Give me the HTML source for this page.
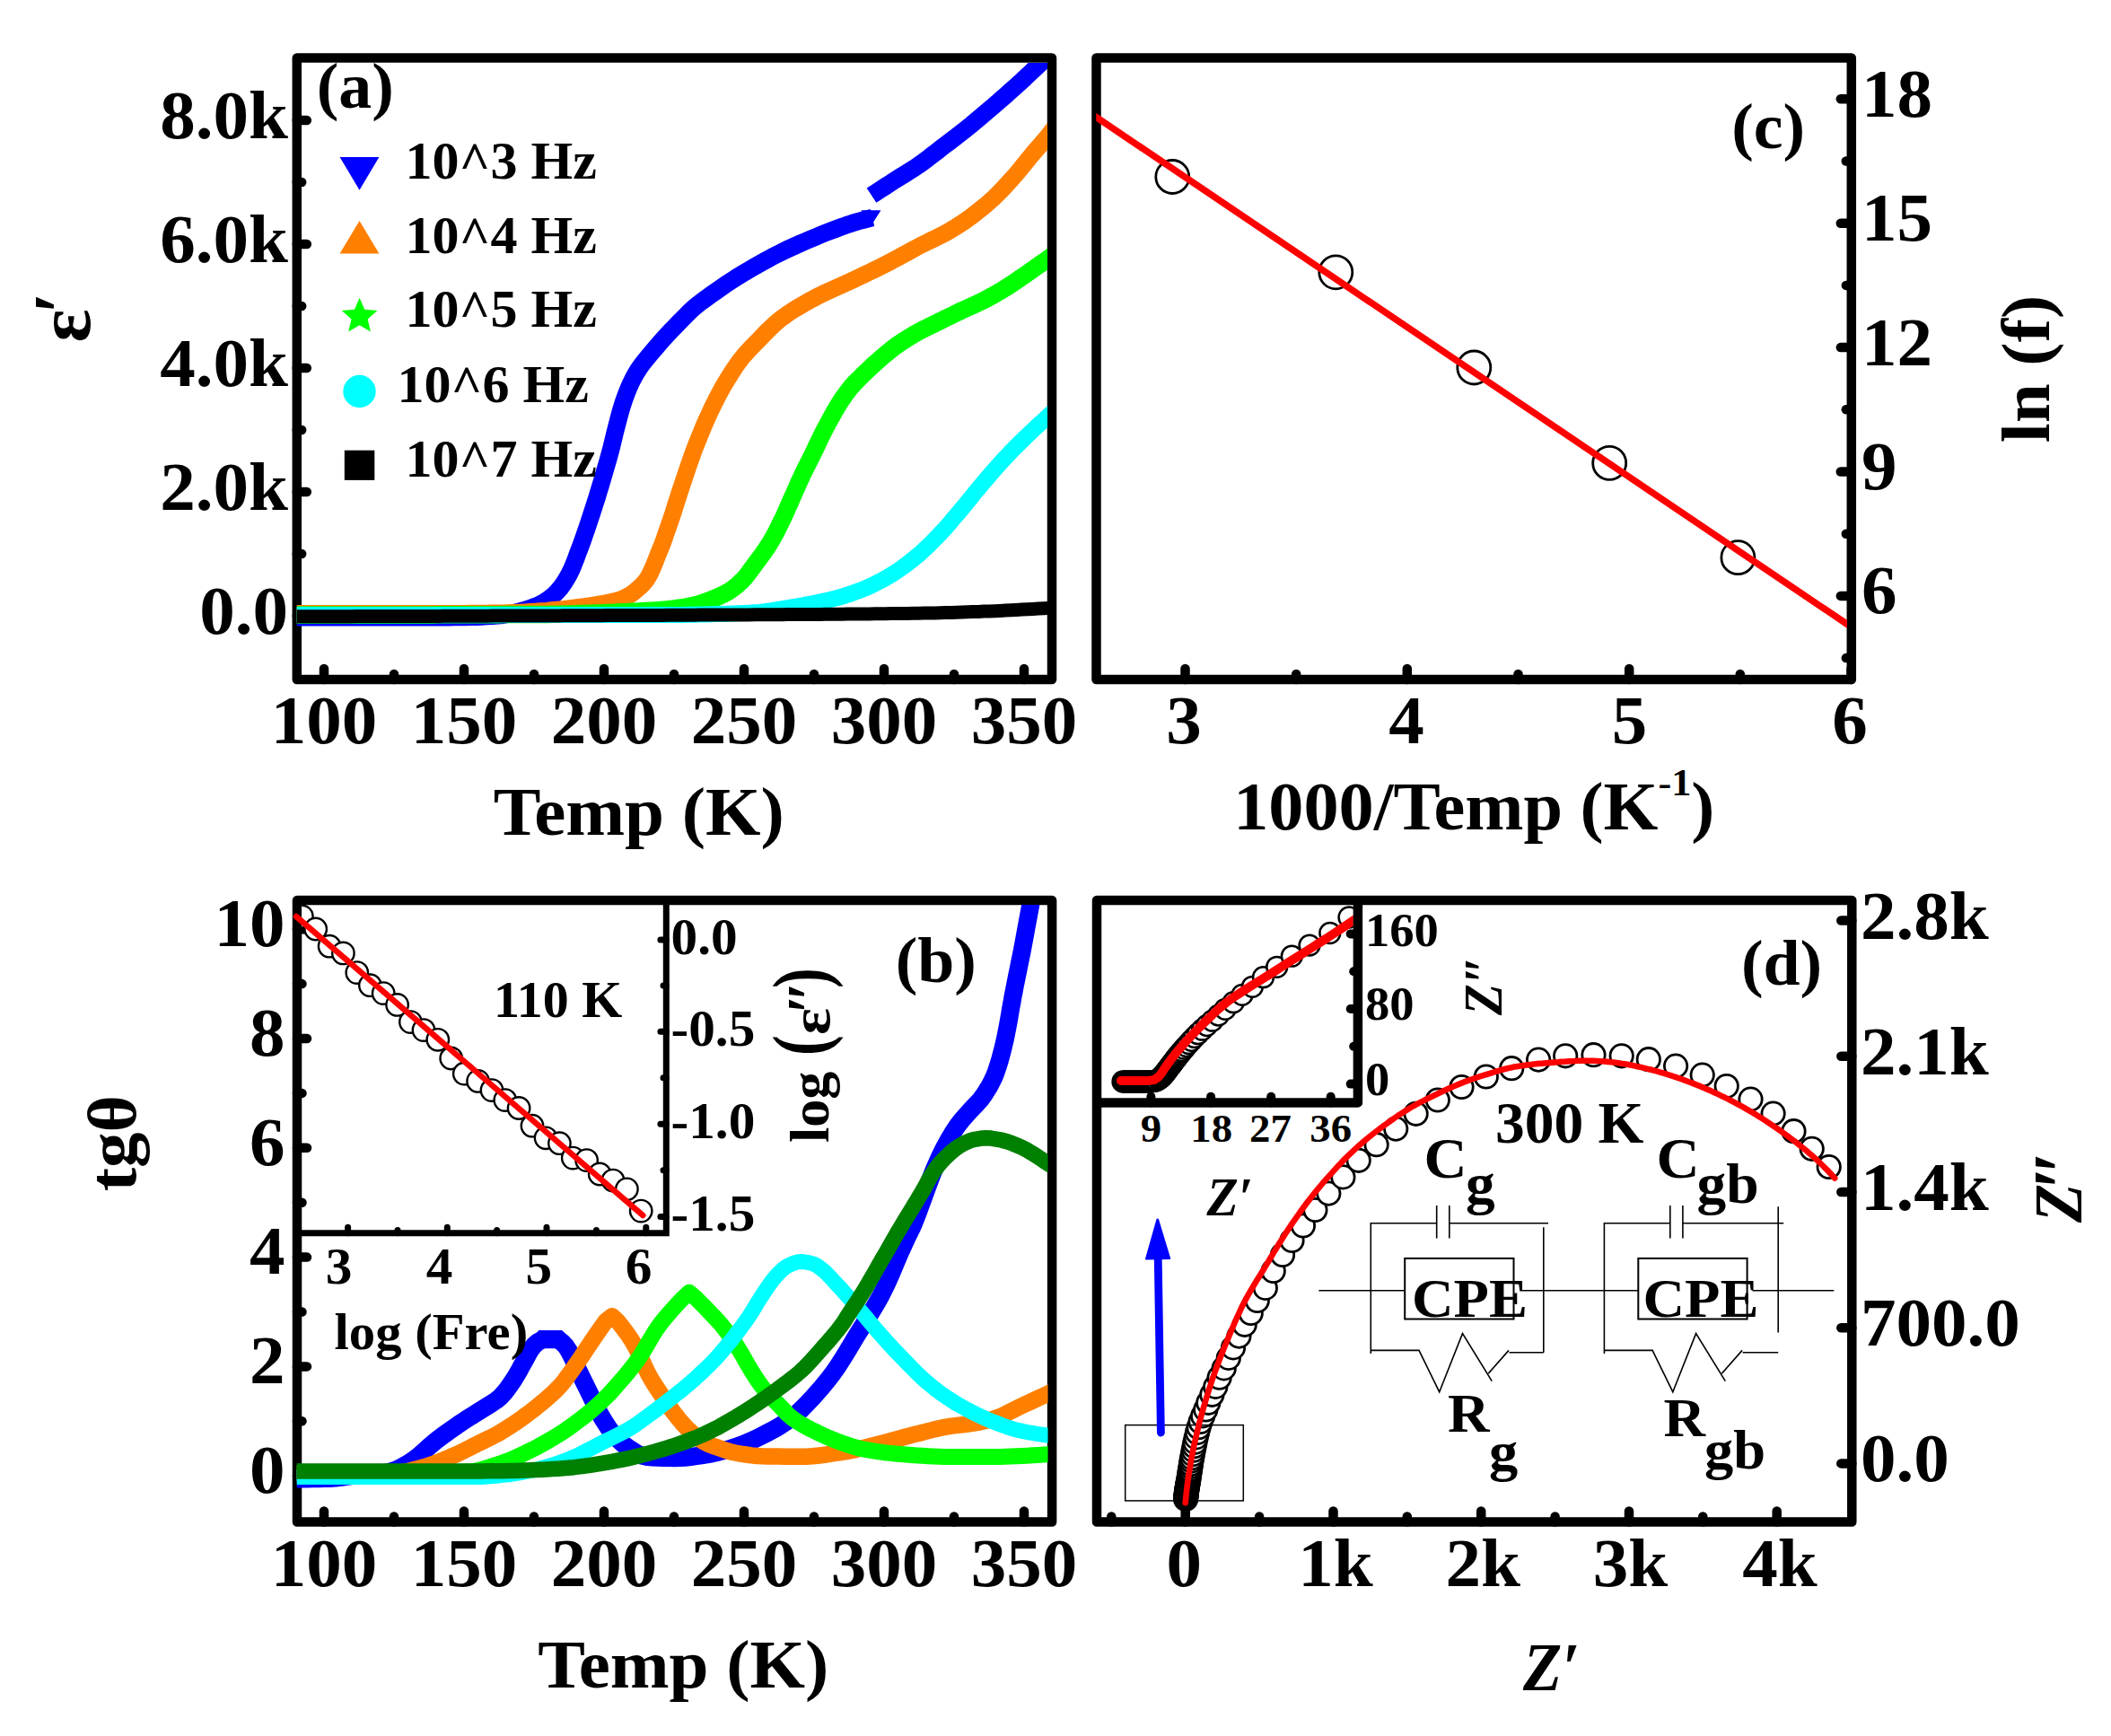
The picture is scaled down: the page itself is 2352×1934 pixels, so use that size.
<!DOCTYPE html>
<html><head><meta charset="utf-8"><title>figure</title>
<style>html,body{margin:0;padding:0;background:#fff}svg{display:block}text{font-family:'Liberation Serif', 'DejaVu Serif', serif;fill:#000}</style>
</head><body>
<svg width="2352" height="1934" viewBox="0 0 2352 1934">
<rect width="2352" height="1934" fill="#fff"/>
<defs>
<clipPath id="ca"><rect x="330.5" y="70" width="836.5" height="687"/></clipPath>
<clipPath id="cc"><rect x="1221.3" y="70" width="836.6" height="687"/></clipPath>
<clipPath id="cb"><rect x="330.5" y="1008" width="837" height="687.5"/></clipPath>
<clipPath id="cd"><rect x="1222" y="1008" width="836.4" height="687.5"/></clipPath>
<clipPath id="cdi"><rect x="1222" y="1008" width="285.8" height="215"/></clipPath>
<clipPath id="cbi"><rect x="336.3" y="1008" width="402.5" height="362.2"/></clipPath>
</defs>
<g id="panel-a">
<rect x="330.8" y="64.5" width="841.2" height="692.5" fill="none" stroke="#000" stroke-width="10.5" stroke-linejoin="round"/>
<line x1="330.8" y1="134" x2="341.8" y2="134" stroke="#000" stroke-width="10.5" stroke-linecap="round"/>
<line x1="330.8" y1="272" x2="341.8" y2="272" stroke="#000" stroke-width="10.5" stroke-linecap="round"/>
<line x1="330.8" y1="410" x2="341.8" y2="410" stroke="#000" stroke-width="10.5" stroke-linecap="round"/>
<line x1="330.8" y1="548" x2="341.8" y2="548" stroke="#000" stroke-width="10.5" stroke-linecap="round"/>
<line x1="330.8" y1="686" x2="341.8" y2="686" stroke="#000" stroke-width="10.5" stroke-linecap="round"/>
<line x1="330.8" y1="203" x2="336.2" y2="203" stroke="#000" stroke-width="10.5" stroke-linecap="round"/>
<line x1="330.8" y1="341" x2="336.2" y2="341" stroke="#000" stroke-width="10.5" stroke-linecap="round"/>
<line x1="330.8" y1="479" x2="336.2" y2="479" stroke="#000" stroke-width="10.5" stroke-linecap="round"/>
<line x1="330.8" y1="617" x2="336.2" y2="617" stroke="#000" stroke-width="10.5" stroke-linecap="round"/>
<line x1="361" y1="757" x2="361" y2="745" stroke="#000" stroke-width="10.5" stroke-linecap="round"/>
<line x1="517" y1="757" x2="517" y2="745" stroke="#000" stroke-width="10.5" stroke-linecap="round"/>
<line x1="673" y1="757" x2="673" y2="745" stroke="#000" stroke-width="10.5" stroke-linecap="round"/>
<line x1="829" y1="757" x2="829" y2="745" stroke="#000" stroke-width="10.5" stroke-linecap="round"/>
<line x1="985" y1="757" x2="985" y2="745" stroke="#000" stroke-width="10.5" stroke-linecap="round"/>
<line x1="1141" y1="757" x2="1141" y2="745" stroke="#000" stroke-width="10.5" stroke-linecap="round"/>
<line x1="439" y1="757" x2="439" y2="751" stroke="#000" stroke-width="10.5" stroke-linecap="round"/>
<line x1="595" y1="757" x2="595" y2="751" stroke="#000" stroke-width="10.5" stroke-linecap="round"/>
<line x1="751" y1="757" x2="751" y2="751" stroke="#000" stroke-width="10.5" stroke-linecap="round"/>
<line x1="907" y1="757" x2="907" y2="751" stroke="#000" stroke-width="10.5" stroke-linecap="round"/>
<line x1="1063" y1="757" x2="1063" y2="751" stroke="#000" stroke-width="10.5" stroke-linecap="round"/>
<path d="M330.5 687.8 L336.6 687.8 L342.6 687.8 L348.7 687.8 L354.7 687.8 L360.8 687.8 L366.9 687.8 L372.9 687.8 L379 687.8 L385 687.8 L391.1 687.8 L397.2 687.8 L403.2 687.8 L409.3 687.8 L415.3 687.8 L421.4 687.8 L427.5 687.8 L433.5 687.8 L439.6 687.8 L445.6 687.8 L451.7 687.8 L457.8 687.8 L463.8 687.8 L469.9 687.8 L475.9 687.8 L482 687.8 L488.1 687.8 L494.1 687.7 L500.2 687.7 L506.2 687.6 L512.3 687.5 L518.4 687.4 L524.4 687.3 L530.5 687.2 L536.6 686.9 L542.6 686.6 L548.7 686.2 L554.7 685.8 L560.7 685.2 L566.7 684.2 L572.6 682.8 L578.5 681.3 L584.3 679.7 L590.1 677.8 L595.8 675.7 L601.4 673.4 L606.8 670.5 L611.8 667.2 L616.5 663.4 L620.8 659.1 L624.8 654.5 L628.3 649.6 L631.5 644.4 L634.5 639.1 L637.1 633.7 L639.4 628.1 L641.6 622.4 L643.7 616.7 L645.9 611 L648 605.4 L650 599.7 L652 593.9 L654 588.2 L655.9 582.5 L657.8 576.7 L659.7 570.9 L661.6 565.2 L663.4 559.4 L665.3 553.6 L667 547.8 L668.8 542 L670.5 536.2 L672.2 530.4 L673.9 524.6 L675.6 518.8 L677.3 513 L678.9 507.1 L680.5 501.3 L682 495.4 L683.4 489.5 L684.8 483.6 L686.3 477.7 L687.8 471.9 L689.3 466 L690.9 460.1 L692.6 454.3 L694.4 448.5 L696.4 442.8 L698.5 437.1 L700.8 431.5 L703.3 426 L706 420.6 L709 415.3 L712.2 410.2 L715.8 405.3 L719.6 400.5 L723.4 395.8 L727.4 391.2 L731.3 386.6 L735.2 382 L739.2 377.5 L743.3 373 L747.5 368.6 L751.7 364.2 L755.9 359.9 L760.2 355.5 L764.4 351.2 L768.7 346.9 L773.2 342.8 L777.8 339 L782.7 335.3 L787.6 331.8 L792.5 328.2 L797.4 324.7 L802.4 321.2 L807.4 317.7 L812.4 314.4 L817.5 311.1 L822.6 307.8 L827.8 304.7 L833 301.6 L838.2 298.5 L843.5 295.5 L848.8 292.5 L854.1 289.6 L859.4 286.7 L864.8 283.9 L870.2 281.2 L875.6 278.5 L881.1 276 L886.6 273.5 L892.2 271 L897.7 268.6 L903.3 266.2 L908.9 263.9 L914.5 261.6 L920.1 259.3 L925.8 257.1 L931.5 255 L937.1 252.9 L942.9 250.8 L948.6 248.9 L954.4 247.2 L960.2 245.5 L966.1 244 L972 242.6" fill="none" stroke="#0000ff" stroke-width="19.5" stroke-linejoin="round" stroke-linecap="butt" clip-path="url(#ca)"/>
<path d="M959.5 234.2 L981.5 234.2 L970.5 251.5 Z" fill="#0000ff"/>
<path d="M971 217.7 L976.2 214.3 L981.5 210.9 L986.7 207.5 L992 204.1 L997.2 200.7 L1002.5 197.4 L1007.9 194.1 L1013.2 190.8 L1018.4 187.5 L1023.6 184 L1028.7 180.3 L1033.7 176.6 L1038.6 172.8 L1043.6 169 L1048.5 165.1 L1053.5 161.3 L1058.4 157.6 L1063.4 153.8 L1068.3 149.9 L1073.3 146.1 L1078.1 142.2 L1083 138.3 L1087.8 134.3 L1092.6 130.3 L1097.4 126.2 L1102.1 122.2 L1106.9 118.1 L1111.6 114 L1116.3 109.9 L1121 105.8 L1125.7 101.6 L1130.3 97.5 L1135 93.3 L1139.6 89.1 L1144.1 84.8 L1148.7 80.5 L1153.2 76.2 L1157.8 71.9 L1162.3 67.6 L1166.7 63.2 L1171.2 58.9 L1175.6 54.4 L1180 50" fill="none" stroke="#0000ff" stroke-width="19.5" stroke-linejoin="round" stroke-linecap="butt" clip-path="url(#ca)"/>
<path d="M330.5 683.5 L336.6 683.5 L342.6 683.5 L348.7 683.5 L354.7 683.5 L360.8 683.5 L366.8 683.5 L372.9 683.5 L378.9 683.5 L385 683.5 L391 683.5 L397.1 683.5 L403.1 683.5 L409.2 683.5 L415.2 683.5 L421.3 683.5 L427.4 683.5 L433.4 683.5 L439.5 683.5 L445.5 683.5 L451.6 683.5 L457.6 683.5 L463.7 683.5 L469.7 683.5 L475.8 683.5 L481.8 683.5 L487.9 683.5 L493.9 683.5 L500 683.5 L506 683.4 L512.1 683.4 L518.2 683.4 L524.2 683.3 L530.3 683.3 L536.3 683.2 L542.4 683.2 L548.4 683.1 L554.5 683 L560.5 682.9 L566.6 682.7 L572.6 682.5 L578.7 682.2 L584.7 681.9 L590.8 681.6 L596.8 681.2 L602.8 680.8 L608.9 680.4 L614.9 679.8 L620.9 679.2 L627 678.6 L633 678 L639 677.3 L645 676.5 L651 675.7 L657 674.8 L663 673.9 L668.9 672.9 L674.9 671.8 L680.9 670.6 L686.8 669.2 L692.5 667.5 L698.1 665 L703.3 661.9 L708.1 658.2 L712.7 654.2 L717.1 649.9 L720.8 645.3 L723.8 640.1 L726.4 634.6 L728.8 629 L731 623.4 L733.2 617.7 L735.5 612.1 L737.8 606.5 L739.9 600.8 L741.8 595.1 L743.8 589.3 L745.8 583.6 L747.8 577.9 L749.7 572.2 L751.5 566.4 L753.3 560.6 L755.2 554.9 L757 549.1 L758.9 543.4 L760.8 537.6 L762.8 531.9 L764.7 526.1 L766.6 520.4 L768.6 514.7 L770.6 509 L772.6 503.3 L774.8 497.6 L777 492 L779.3 486.4 L781.6 480.8 L783.9 475.2 L786.3 469.6 L788.8 464.1 L791.3 458.6 L793.9 453.1 L796.6 447.7 L799.3 442.3 L802.2 436.9 L805.1 431.6 L808.1 426.4 L811.3 421.2 L814.5 416.1 L817.8 411 L821.2 406 L824.8 401.1 L828.6 396.4 L832.6 391.9 L836.7 387.5 L841 383.1 L845.2 378.8 L849.4 374.4 L853.7 370 L858 365.7 L862.4 361.6 L866.9 357.6 L871.6 353.9 L876.5 350.4 L881.5 347 L886.6 343.8 L891.9 340.7 L897.2 337.6 L902.5 334.7 L907.8 331.8 L913.2 329 L918.6 326.4 L924.1 323.9 L929.6 321.4 L935.2 318.9 L940.7 316.4 L946.2 313.9 L951.7 311.3 L957.1 308.7 L962.6 306.1 L968.1 303.5 L973.5 300.9 L979 298.2 L984.4 295.5 L989.8 292.8 L995.1 289.9 L1000.5 287.1 L1005.8 284.2 L1011.1 281.3 L1016.4 278.4 L1021.8 275.5 L1027.1 272.7 L1032.6 270 L1038 267.4 L1043.5 264.7 L1048.9 262 L1054.3 259.2 L1059.5 256.2 L1064.6 253.1 L1069.7 249.9 L1074.8 246.5 L1079.7 243 L1084.6 239.3 L1089.4 235.6 L1094.2 231.8 L1098.8 228 L1103.3 224 L1107.8 219.9 L1112.1 215.6 L1116.3 211.3 L1120.5 206.9 L1124.6 202.4 L1128.7 197.9 L1132.6 193.4 L1136.5 188.7 L1140.3 184 L1144.1 179.3 L1147.9 174.6 L1151.8 169.9 L1155.8 165.4 L1159.8 160.8 L1163.7 156.2 L1167.6 151.6 L1171.3 146.8 L1175 142" fill="none" stroke="#ff8000" stroke-width="19" stroke-linejoin="round" stroke-linecap="butt" clip-path="url(#ca)"/>
<path d="M330.5 685 L336.6 685 L342.6 685 L348.7 685 L354.8 685 L360.8 685 L366.9 685 L373 685 L379 685 L385.1 685 L391.2 685 L397.2 685 L403.3 685 L409.4 685 L415.4 685 L421.5 685 L427.6 684.9 L433.6 684.9 L439.7 684.9 L445.8 684.9 L451.8 684.9 L457.9 684.9 L464 684.9 L470 684.9 L476.1 684.9 L482.1 684.9 L488.2 684.8 L494.3 684.8 L500.3 684.8 L506.4 684.8 L512.5 684.8 L518.5 684.8 L524.6 684.8 L530.7 684.7 L536.7 684.7 L542.8 684.7 L548.9 684.7 L554.9 684.7 L561 684.6 L567.1 684.6 L573.1 684.6 L579.2 684.6 L585.3 684.6 L591.3 684.5 L597.4 684.5 L603.4 684.5 L609.5 684.4 L615.6 684.3 L621.6 684.2 L627.7 684.1 L633.8 683.9 L639.8 683.8 L645.9 683.6 L652 683.4 L658 683.3 L664.1 683.1 L670.1 682.9 L676.2 682.6 L682.3 682.4 L688.3 682.1 L694.4 681.8 L700.5 681.6 L706.5 681.3 L712.6 681 L718.6 680.6 L724.7 680.3 L730.7 679.9 L736.8 679.4 L742.8 678.9 L748.9 678.3 L754.9 677.5 L760.9 676.6 L766.9 675.6 L772.8 674.4 L778.6 672.8 L784.4 670.9 L790.1 668.8 L795.8 666.6 L801.4 664.2 L806.9 661.6 L812.2 658.7 L817.2 655.3 L821.9 651.4 L826.4 647.3 L830.5 642.9 L834.2 638.1 L837.8 633.2 L841.4 628.3 L845.1 623.4 L848.7 618.5 L852.2 613.6 L855.6 608.5 L858.8 603.4 L861.8 598.2 L864.7 592.8 L867.4 587.4 L870.1 581.9 L872.8 576.5 L875.3 571 L877.7 565.4 L880.2 559.9 L882.6 554.3 L885.1 548.8 L887.6 543.2 L890 537.7 L892.5 532.2 L895.1 526.7 L897.8 521.2 L900.5 515.8 L903.3 510.4 L906 505 L908.6 499.5 L911.2 494 L913.8 488.5 L916.5 483.1 L919.2 477.7 L922.1 472.4 L925 467 L927.9 461.7 L930.9 456.4 L934 451.2 L937.2 446.1 L940.7 441.1 L944.3 436.2 L948 431.4 L952.1 426.9 L956.3 422.6 L960.7 418.3 L965 414.1 L969.4 409.9 L973.9 405.8 L978.4 401.8 L982.9 397.8 L987.6 393.8 L992.3 390 L997.1 386.3 L1002 382.8 L1007.1 379.4 L1012.2 376.2 L1017.4 373.1 L1022.7 370.1 L1028 367.2 L1033.5 364.5 L1038.9 361.9 L1044.4 359.2 L1049.8 356.5 L1055.3 353.8 L1060.7 351.2 L1066.2 348.5 L1071.6 345.9 L1077.2 343.4 L1082.7 340.9 L1088.2 338.4 L1093.7 335.8 L1099.1 333 L1104.4 330.1 L1109.7 327.2 L1115 324.1 L1120.1 321 L1125.2 317.7 L1130.3 314.3 L1135.3 310.9 L1140.3 307.4 L1145.3 304 L1150.3 300.5 L1155.2 297.1 L1160.2 293.6 L1165.1 290.1 L1170.1 286.6 L1175 283" fill="none" stroke="#00ff00" stroke-width="19.5" stroke-linejoin="round" stroke-linecap="butt" clip-path="url(#ca)"/>
<path d="M330.5 685 L336.6 685 L342.6 685 L348.7 685 L354.8 685 L360.9 685 L366.9 685 L373 685 L379.1 685 L385.1 685 L391.2 685 L397.3 685 L403.3 685 L409.4 685 L415.5 685 L421.6 685 L427.6 685 L433.7 685 L439.8 685 L445.8 685 L451.9 685 L458 685 L464 685 L470.1 685 L476.2 685 L482.3 685 L488.3 685 L494.4 685 L500.5 685 L506.5 685 L512.6 685 L518.7 685 L524.7 685 L530.8 685 L536.9 685 L543 685 L549 685 L555.1 685 L561.2 685 L567.2 685 L573.3 685 L579.4 685 L585.4 685 L591.5 685 L597.6 685 L603.6 685 L609.7 685 L615.8 685 L621.9 685 L627.9 685 L634 685 L640.1 685 L646.1 685 L652.2 685 L658.3 685 L664.3 685 L670.4 685 L676.5 685 L682.5 685 L688.6 685 L694.7 685 L700.8 685 L706.8 685 L712.9 685 L719 685 L725 685 L731.1 685 L737.2 685 L743.2 685 L749.3 685 L755.4 685 L761.4 684.9 L767.5 684.8 L773.6 684.7 L779.7 684.6 L785.7 684.4 L791.8 684.2 L797.9 684.1 L803.9 683.9 L810 683.7 L816.1 683.5 L822.1 683.2 L828.2 683 L834.3 682.7 L840.3 682.3 L846.4 681.9 L852.4 681.2 L858.4 680.4 L864.4 679.4 L870.4 678.4 L876.4 677.5 L882.4 676.5 L888.4 675.4 L894.3 674.4 L900.3 673.2 L906.3 672.1 L912.2 670.9 L918.1 669.6 L924.1 668.2 L929.9 666.8 L935.8 665.2 L941.6 663.5 L947.4 661.6 L953.1 659.6 L958.8 657.5 L964.5 655.2 L970 652.7 L975.5 650.1 L980.9 647.3 L986.2 644.4 L991.5 641.3 L996.6 638.1 L1001.7 634.8 L1006.6 631.3 L1011.5 627.6 L1016.3 623.9 L1021 620 L1025.6 616.1 L1030 612 L1034.5 607.8 L1038.8 603.5 L1043.1 599.2 L1047.3 594.8 L1051.4 590.4 L1055.4 585.9 L1059.4 581.3 L1063.3 576.6 L1067.3 572 L1071.2 567.4 L1075.1 562.7 L1078.9 558 L1082.7 553.3 L1086.5 548.5 L1090.4 543.9 L1094.3 539.2 L1098.2 534.6 L1102.2 530 L1106.1 525.4 L1110.2 520.8 L1114.2 516.3 L1118.3 511.8 L1122.5 507.4 L1126.6 503 L1130.9 498.7 L1135.2 494.4 L1139.5 490.1 L1143.8 485.9 L1148.2 481.7 L1152.7 477.5 L1157.1 473.4 L1161.6 469.3 L1166.1 465.2 L1170.5 461.1 L1175 457" fill="none" stroke="#00ffff" stroke-width="18" stroke-linejoin="round" stroke-linecap="butt" clip-path="url(#ca)"/>
<path d="M330.5 686.8 L336.6 686.8 L342.7 686.8 L348.7 686.8 L354.8 686.7 L360.9 686.7 L367 686.7 L373 686.7 L379.1 686.7 L385.2 686.7 L391.3 686.7 L397.3 686.6 L403.4 686.6 L409.5 686.6 L415.6 686.6 L421.6 686.6 L427.7 686.5 L433.8 686.5 L439.9 686.5 L446 686.5 L452 686.5 L458.1 686.5 L464.2 686.4 L470.3 686.4 L476.3 686.4 L482.4 686.4 L488.5 686.4 L494.6 686.3 L500.6 686.3 L506.7 686.3 L512.8 686.3 L518.9 686.3 L524.9 686.2 L531 686.2 L537.1 686.2 L543.2 686.2 L549.3 686.1 L555.3 686.1 L561.4 686.1 L567.5 686.1 L573.6 686.1 L579.6 686 L585.7 686 L591.8 686 L597.9 686 L603.9 685.9 L610 685.9 L616.1 685.9 L622.2 685.9 L628.2 685.8 L634.3 685.8 L640.4 685.8 L646.5 685.8 L652.6 685.7 L658.6 685.7 L664.7 685.7 L670.8 685.7 L676.9 685.6 L682.9 685.6 L689 685.6 L695.1 685.6 L701.2 685.5 L707.2 685.5 L713.3 685.5 L719.4 685.4 L725.5 685.4 L731.5 685.4 L737.6 685.4 L743.7 685.3 L749.8 685.3 L755.9 685.3 L761.9 685.2 L768 685.2 L774.1 685.2 L780.2 685.1 L786.2 685.1 L792.3 685.1 L798.4 685.1 L804.5 685 L810.5 685 L816.6 685 L822.7 684.9 L828.8 684.9 L834.8 684.9 L840.9 684.8 L847 684.8 L853.1 684.8 L859.2 684.7 L865.2 684.7 L871.3 684.7 L877.4 684.6 L883.5 684.6 L889.5 684.5 L895.6 684.5 L901.7 684.5 L907.8 684.4 L913.8 684.4 L919.9 684.3 L926 684.3 L932.1 684.2 L938.1 684.2 L944.2 684.1 L950.3 684.1 L956.4 684 L962.5 684 L968.5 683.9 L974.6 683.8 L980.7 683.8 L986.8 683.7 L992.8 683.6 L998.9 683.6 L1005 683.5 L1011.1 683.4 L1017.1 683.3 L1023.2 683.2 L1029.3 683.1 L1035.4 683 L1041.4 682.9 L1047.5 682.7 L1053.6 682.5 L1059.7 682.4 L1065.7 682.2 L1071.8 682 L1077.9 681.8 L1084 681.6 L1090 681.4 L1096.1 681.1 L1102.2 680.9 L1108.2 680.7 L1114.3 680.4 L1120.4 680.1 L1126.5 679.8 L1132.5 679.5 L1138.6 679.1 L1144.7 678.8 L1150.7 678.5 L1156.8 678.1 L1162.9 677.8 L1168.9 677.5 L1175 677.2" fill="none" stroke="#000000" stroke-width="15" stroke-linejoin="round" stroke-linecap="butt" clip-path="url(#ca)"/>
<text transform="translate(321 154) scale(1.04 1)" font-size="76" font-weight="bold" font-style="normal" text-anchor="end">8.0k</text>
<text transform="translate(321 292) scale(1.04 1)" font-size="76" font-weight="bold" font-style="normal" text-anchor="end">6.0k</text>
<text transform="translate(321 430) scale(1.04 1)" font-size="76" font-weight="bold" font-style="normal" text-anchor="end">4.0k</text>
<text transform="translate(321 568) scale(1.04 1)" font-size="76" font-weight="bold" font-style="normal" text-anchor="end">2.0k</text>
<text transform="translate(321 706) scale(1.04 1)" font-size="76" font-weight="bold" font-style="normal" text-anchor="end">0.0</text>
<text transform="translate(361 827.5) scale(1.04 1)" font-size="76" font-weight="bold" font-style="normal" text-anchor="middle">100</text>
<text transform="translate(517 827.5) scale(1.04 1)" font-size="76" font-weight="bold" font-style="normal" text-anchor="middle">150</text>
<text transform="translate(673 827.5) scale(1.04 1)" font-size="76" font-weight="bold" font-style="normal" text-anchor="middle">200</text>
<text transform="translate(829 827.5) scale(1.04 1)" font-size="76" font-weight="bold" font-style="normal" text-anchor="middle">250</text>
<text transform="translate(985 827.5) scale(1.04 1)" font-size="76" font-weight="bold" font-style="normal" text-anchor="middle">300</text>
<text transform="translate(1141 827.5) scale(1.04 1)" font-size="76" font-weight="bold" font-style="normal" text-anchor="middle">350</text>
<text transform="translate(711.8 930) scale(1.04 1)" font-size="76" font-weight="bold" font-style="normal" text-anchor="middle">Temp (K)</text>
<text transform="translate(100 381.5) rotate(-90) scale(1.03 1)" font-size="84" font-weight="bold" font-style="normal" text-anchor="start">ε</text>
<text transform="translate(96 349.5) rotate(-90) scale(1.04 1)" font-size="84" font-weight="bold" font-style="normal" text-anchor="start">′</text>
<text transform="translate(395.7 119.5) scale(1.04 1)" font-size="71" font-weight="bold" font-style="normal" text-anchor="middle">(a)</text>
<path d="M378.6 175 L422.4 175 L400.5 211.7 Z" fill="#0000ff"/>
<path d="M378.6 282.6 L422.4 282.6 L400.5 245.9 Z" fill="#ff8000"/>
<path d="M400.6 331.7 L406.2 344.8 L420.5 346.1 L409.7 355.6 L412.9 369.5 L400.6 362.2 L388.3 369.5 L391.5 355.6 L380.7 346.1 L395 344.8 Z" fill="#00ff00"/>
<circle cx="400.5" cy="436" r="18.2" fill="#00ffff"/>
<rect x="383.8" y="501.7" width="33.5" height="33.2" fill="#000"/>
<text transform="translate(451.5 198.8) scale(1.03 1)" font-size="58.3" font-weight="bold" font-style="normal" text-anchor="start">10^3 Hz</text>
<text transform="translate(451.5 282) scale(1.03 1)" font-size="58.3" font-weight="bold" font-style="normal" text-anchor="start">10^4 Hz</text>
<text transform="translate(451.5 364.1) scale(1.03 1)" font-size="58.3" font-weight="bold" font-style="normal" text-anchor="start">10^5 Hz</text>
<text transform="translate(442.5 447.9) scale(1.03 1)" font-size="58.3" font-weight="bold" font-style="normal" text-anchor="start">10^6 Hz</text>
<text transform="translate(451.5 530.7) scale(1.03 1)" font-size="58.3" font-weight="bold" font-style="normal" text-anchor="start">10^7 Hz</text>
</g>
<g id="panel-c">
<rect x="1221.5" y="64.5" width="841.3" height="692.5" fill="none" stroke="#000" stroke-width="10.5" stroke-linejoin="round"/>
<line x1="2062.8" y1="110.3" x2="2050.8" y2="110.3" stroke="#000" stroke-width="10.5" stroke-linecap="round"/>
<line x1="2062.8" y1="248.7" x2="2050.8" y2="248.7" stroke="#000" stroke-width="10.5" stroke-linecap="round"/>
<line x1="2062.8" y1="387.1" x2="2050.8" y2="387.1" stroke="#000" stroke-width="10.5" stroke-linecap="round"/>
<line x1="2062.8" y1="525.5" x2="2050.8" y2="525.5" stroke="#000" stroke-width="10.5" stroke-linecap="round"/>
<line x1="2062.8" y1="663.9" x2="2050.8" y2="663.9" stroke="#000" stroke-width="10.5" stroke-linecap="round"/>
<line x1="2062.8" y1="179.5" x2="2056.8" y2="179.5" stroke="#000" stroke-width="10.5" stroke-linecap="round"/>
<line x1="2062.8" y1="317.9" x2="2056.8" y2="317.9" stroke="#000" stroke-width="10.5" stroke-linecap="round"/>
<line x1="2062.8" y1="456.3" x2="2056.8" y2="456.3" stroke="#000" stroke-width="10.5" stroke-linecap="round"/>
<line x1="2062.8" y1="594.7" x2="2056.8" y2="594.7" stroke="#000" stroke-width="10.5" stroke-linecap="round"/>
<line x1="2062.8" y1="733.1" x2="2056.8" y2="733.1" stroke="#000" stroke-width="10.5" stroke-linecap="round"/>
<line x1="1320.5" y1="757" x2="1320.5" y2="745" stroke="#000" stroke-width="10.5" stroke-linecap="round"/>
<line x1="1567.8" y1="757" x2="1567.8" y2="745" stroke="#000" stroke-width="10.5" stroke-linecap="round"/>
<line x1="1815.2" y1="757" x2="1815.2" y2="745" stroke="#000" stroke-width="10.5" stroke-linecap="round"/>
<line x1="2062.5" y1="757" x2="2062.5" y2="745" stroke="#000" stroke-width="10.5" stroke-linecap="round"/>
<line x1="1444.2" y1="757" x2="1444.2" y2="751" stroke="#000" stroke-width="10.5" stroke-linecap="round"/>
<line x1="1691.5" y1="757" x2="1691.5" y2="751" stroke="#000" stroke-width="10.5" stroke-linecap="round"/>
<line x1="1938.8" y1="757" x2="1938.8" y2="751" stroke="#000" stroke-width="10.5" stroke-linecap="round"/>
<circle cx="1306.3" cy="197" r="18.5" fill="none" stroke="#000" stroke-width="2.8"/>
<circle cx="1488.3" cy="303.3" r="18.5" fill="none" stroke="#000" stroke-width="2.8"/>
<circle cx="1642.3" cy="409.5" r="18.5" fill="none" stroke="#000" stroke-width="2.8"/>
<circle cx="1793.2" cy="515.9" r="18.5" fill="none" stroke="#000" stroke-width="2.8"/>
<circle cx="1936.4" cy="621.2" r="18.5" fill="none" stroke="#000" stroke-width="2.8"/>
<path d="M1215 126.2 L2070 703.5" stroke="#ff0000" stroke-width="7.5" fill="none" clip-path="url(#cc)"/>
<text transform="translate(2074 129.8) scale(1.04 1)" font-size="76" font-weight="bold" font-style="normal" text-anchor="start">18</text>
<text transform="translate(2074 268.2) scale(1.04 1)" font-size="76" font-weight="bold" font-style="normal" text-anchor="start">15</text>
<text transform="translate(2074 406.6) scale(1.04 1)" font-size="76" font-weight="bold" font-style="normal" text-anchor="start">12</text>
<text transform="translate(2074 545) scale(1.04 1)" font-size="76" font-weight="bold" font-style="normal" text-anchor="start">9</text>
<text transform="translate(2074 683.4) scale(1.04 1)" font-size="76" font-weight="bold" font-style="normal" text-anchor="start">6</text>
<text transform="translate(1319 827.5) scale(1.04 1)" font-size="76" font-weight="bold" font-style="normal" text-anchor="middle">3</text>
<text transform="translate(1567 827.5) scale(1.04 1)" font-size="76" font-weight="bold" font-style="normal" text-anchor="middle">4</text>
<text transform="translate(1815.5 827.5) scale(1.04 1)" font-size="76" font-weight="bold" font-style="normal" text-anchor="middle">5</text>
<text transform="translate(2061 827.5) scale(1.04 1)" font-size="76" font-weight="bold" font-style="normal" text-anchor="middle">6</text>
<text transform="translate(1642.3 924) scale(1.03 1)" font-size="76" font-weight="bold" text-anchor="middle">1000/Temp (K<tspan font-size="43" dy="-38.5">-1</tspan><tspan dy="38.5">)</tspan></text>
<text transform="translate(2283 411) rotate(-90) scale(1.04 1)" font-size="76" font-weight="bold" font-style="normal" text-anchor="middle">ln (f)</text>
<text transform="translate(1970.2 164.8) scale(1.04 1)" font-size="71" font-weight="bold" font-style="normal" text-anchor="middle">(c)</text>
</g>
<g id="panel-b">
<rect x="331" y="1003" width="841.1" height="692.5" fill="none" stroke="#000" stroke-width="10.5" stroke-linejoin="round"/>
<line x1="331" y1="1035.2" x2="342" y2="1035.2" stroke="#000" stroke-width="10.5" stroke-linecap="round"/>
<line x1="331" y1="1157" x2="342" y2="1157" stroke="#000" stroke-width="10.5" stroke-linecap="round"/>
<line x1="331" y1="1278.8" x2="342" y2="1278.8" stroke="#000" stroke-width="10.5" stroke-linecap="round"/>
<line x1="331" y1="1400.6" x2="342" y2="1400.6" stroke="#000" stroke-width="10.5" stroke-linecap="round"/>
<line x1="331" y1="1522.4" x2="342" y2="1522.4" stroke="#000" stroke-width="10.5" stroke-linecap="round"/>
<line x1="331" y1="1644.2" x2="342" y2="1644.2" stroke="#000" stroke-width="10.5" stroke-linecap="round"/>
<line x1="331" y1="1096.1" x2="336.5" y2="1096.1" stroke="#000" stroke-width="10.5" stroke-linecap="round"/>
<line x1="331" y1="1217.9" x2="336.5" y2="1217.9" stroke="#000" stroke-width="10.5" stroke-linecap="round"/>
<line x1="331" y1="1339.7" x2="336.5" y2="1339.7" stroke="#000" stroke-width="10.5" stroke-linecap="round"/>
<line x1="331" y1="1461.5" x2="336.5" y2="1461.5" stroke="#000" stroke-width="10.5" stroke-linecap="round"/>
<line x1="331" y1="1583.3" x2="336.5" y2="1583.3" stroke="#000" stroke-width="10.5" stroke-linecap="round"/>
<line x1="361" y1="1695.5" x2="361" y2="1683.5" stroke="#000" stroke-width="10.5" stroke-linecap="round"/>
<line x1="517" y1="1695.5" x2="517" y2="1683.5" stroke="#000" stroke-width="10.5" stroke-linecap="round"/>
<line x1="673" y1="1695.5" x2="673" y2="1683.5" stroke="#000" stroke-width="10.5" stroke-linecap="round"/>
<line x1="829" y1="1695.5" x2="829" y2="1683.5" stroke="#000" stroke-width="10.5" stroke-linecap="round"/>
<line x1="985" y1="1695.5" x2="985" y2="1683.5" stroke="#000" stroke-width="10.5" stroke-linecap="round"/>
<line x1="1141" y1="1695.5" x2="1141" y2="1683.5" stroke="#000" stroke-width="10.5" stroke-linecap="round"/>
<line x1="439" y1="1695.5" x2="439" y2="1689.5" stroke="#000" stroke-width="10.5" stroke-linecap="round"/>
<line x1="595" y1="1695.5" x2="595" y2="1689.5" stroke="#000" stroke-width="10.5" stroke-linecap="round"/>
<line x1="751" y1="1695.5" x2="751" y2="1689.5" stroke="#000" stroke-width="10.5" stroke-linecap="round"/>
<line x1="907" y1="1695.5" x2="907" y2="1689.5" stroke="#000" stroke-width="10.5" stroke-linecap="round"/>
<line x1="1063" y1="1695.5" x2="1063" y2="1689.5" stroke="#000" stroke-width="10.5" stroke-linecap="round"/>
<path d="M330.5 1647.5 L336.7 1647.5 L342.9 1647.4 L349.1 1647.3 L355.3 1647.2 L361.5 1647.1 L367.7 1646.9 L373.8 1646.6 L380 1645.9 L386.1 1644.9 L392.2 1644 L398.4 1643.4 L404.6 1643 L410.8 1642.6 L416.9 1642.1 L423.2 1641.5 L429.3 1640.7 L435.2 1639.5 L441.1 1637.5 L446.8 1634.8 L452.3 1631.7 L457.6 1628.5 L462.6 1625.1 L467.4 1621.2 L472 1617.1 L476.7 1612.8 L481.4 1608.7 L486.2 1604.8 L491.1 1601.1 L496.1 1597.4 L501.1 1593.7 L506.2 1590.2 L511.3 1586.6 L516.4 1583.2 L521.6 1579.8 L526.9 1576.6 L532.1 1573.3 L537.4 1570 L542.6 1566.7 L547.9 1563.4 L553.1 1560 L557.8 1556.1 L561.9 1551.6 L565.8 1546.6 L569.4 1541.5 L572.8 1536.4 L576 1531.1 L579.1 1525.7 L582 1520.2 L585.1 1514.8 L588 1509.3 L591.1 1504 L594.9 1499 L599.4 1494.9 L605 1492.2 L621.5 1492.2 L626.5 1495.7 L630.6 1500 L633.9 1505.2 L636.7 1510.5 L639.3 1516 L641.8 1521.5 L644.5 1526.9 L647.1 1532.3 L649.8 1537.8 L652.4 1543.2 L655.1 1548.6 L657.8 1554 L660.4 1559.5 L663.1 1565 L665.8 1570.4 L668.7 1575.7 L671.7 1580.9 L674.9 1586 L678.3 1591.1 L681.9 1596 L685.8 1600.5 L690 1604.9 L694.6 1609 L699.4 1612.6 L704.5 1615.9 L709.8 1619.2 L715.4 1621.8 L721.1 1623.1 L727 1623.5 L733 1623.8 L739.1 1624 L745.2 1624.1 L751.3 1624.2 L757.4 1624.1 L763.4 1623.7 L769.5 1623.1 L775.5 1622.2 L781.5 1621.3 L787.4 1620.4 L793.3 1619.3 L799.2 1617.9 L805.1 1616.4 L811 1614.7 L816.7 1612.9 L822.4 1611 L828.1 1608.9 L833.7 1606.5 L839.2 1604.1 L844.7 1601.5 L850.1 1598.8 L855.5 1596 L860.9 1593.2 L866.2 1590.2 L871.4 1587 L876.4 1583.7 L881.3 1580.2 L886 1576.5 L890.4 1572.5 L894.8 1568.2 L899 1563.8 L903.2 1559.4 L907.3 1554.9 L911.3 1550.4 L915.3 1545.9 L919.2 1541.2 L923 1536.5 L926.7 1531.7 L930.2 1526.8 L933.6 1521.8 L936.9 1516.8 L940.1 1511.7 L943.3 1506.5 L946.4 1501.3 L949.5 1496.1 L952.6 1490.9 L955.8 1485.7 L959 1480.6 L962.2 1475.5 L965.4 1470.4 L968.7 1465.2 L971.8 1460.1 L974.9 1454.9 L978 1449.6 L980.9 1444.4 L983.7 1439 L986.3 1433.6 L988.9 1428.2 L991.4 1422.7 L993.8 1417.1 L996.1 1411.5 L998.5 1405.9 L1000.8 1400.4 L1003.2 1394.8 L1005.7 1389.3 L1008.2 1383.8 L1010.8 1378.3 L1013.5 1372.9 L1016.1 1367.4 L1018.5 1361.9 L1020.7 1356.3 L1022.9 1350.6 L1025 1344.9 L1027.1 1339.3 L1029.2 1333.6 L1031.2 1327.9 L1033.3 1322.2 L1035.4 1316.5 L1037.6 1310.9 L1039.8 1305.3 L1042.2 1299.7 L1044.6 1294.2 L1047.1 1288.7 L1049.7 1283.3 L1052.5 1277.9 L1055.4 1272.6 L1058.4 1267.3 L1061.5 1262.1 L1064.8 1257.1 L1068.3 1252.1 L1072 1247.3 L1076 1242.8 L1080.1 1238.3 L1084.2 1233.9 L1088.4 1229.5 L1092.5 1225 L1096 1220.2 L1099.3 1215.1 L1102.5 1209.9 L1105.3 1204.5 L1107.9 1199 L1110 1193.4 L1111.9 1187.8 L1113.7 1182 L1115.3 1176.1 L1116.9 1170.2 L1118.3 1164.3 L1119.7 1158.4 L1120.9 1152.5 L1122.1 1146.6 L1123.2 1140.6 L1124.3 1134.7 L1125.3 1128.7 L1126.3 1122.7 L1127.4 1116.8 L1128.4 1110.8 L1129.6 1104.9 L1130.7 1099 L1131.9 1093 L1133.1 1087.1 L1134.3 1081.2 L1135.5 1075.3 L1136.7 1069.3 L1137.9 1063.4 L1139.1 1057.5 L1140.2 1051.5 L1141.3 1045.6 L1142.4 1039.6 L1143.5 1033.7 L1144.6 1027.7 L1145.7 1021.8 L1146.8 1015.9 L1147.9 1009.9 L1148.9 1004 L1150 998" fill="none" stroke="#0000ff" stroke-width="20" stroke-linejoin="round" stroke-linecap="butt" clip-path="url(#cb)"/>
<path d="M600.4 1482.1 L626 1482.1 L633 1488.5 L636 1494 L590 1494 L594.7 1488.5 Z" fill="#0000ff"/>
<path d="M330.5 1642 L336.7 1642 L342.8 1642 L349 1642 L355.1 1642 L361.3 1641.9 L367.4 1641.9 L373.5 1641.9 L379.6 1641.8 L385.7 1641.8 L391.8 1641.7 L397.8 1641.7 L403.9 1641.6 L410 1641.5 L416 1641.4 L422.1 1641.3 L428.1 1641.2 L434.1 1641.1 L440.2 1641 L446.2 1640.5 L452.2 1639.4 L458.2 1638 L464.1 1636.5 L470 1635 L475.8 1633.3 L481.6 1631.3 L487.3 1629.1 L493 1626.9 L498.7 1624.5 L504.3 1622.1 L509.8 1619.7 L515.3 1617 L520.8 1614.3 L526.2 1611.5 L531.6 1608.8 L537.1 1606.1 L542.6 1603.4 L548.1 1600.7 L553.5 1597.9 L558.7 1594.9 L563.9 1591.7 L569.1 1588.4 L574.2 1585 L579.2 1581.6 L584.1 1578 L589 1574.4 L593.9 1570.7 L598.6 1566.9 L603.4 1563 L608.1 1559.1 L612.7 1555.1 L617.2 1550.9 L621.5 1546.6 L625.6 1542.2 L629.4 1537.5 L633 1532.6 L636.6 1527.6 L640.1 1522.6 L643.6 1517.6 L647 1512.6 L650.4 1507.5 L653.8 1502.4 L657.2 1497.3 L660.6 1492.3 L664 1487.3 L667.5 1482.3 L671 1477.3 L674.5 1472.3 L682 1466.2 L689.2 1473.2 L693 1478 L696.7 1482.9 L700.3 1487.9 L703.7 1493 L706.8 1498.2 L709.6 1503.6 L712.3 1509.2 L714.8 1514.8 L717.4 1520.4 L720 1525.9 L722.7 1531.4 L725.7 1536.7 L728.9 1541.9 L732.3 1547.1 L735.7 1552.2 L739.1 1557.3 L742.5 1562.4 L746 1567.4 L749.6 1572.4 L753.3 1577.2 L757.2 1582 L761.2 1586.6 L765.4 1591.1 L769.8 1595.3 L774.5 1599.3 L779.4 1603.2 L784.5 1606.5 L789.9 1609.1 L795.7 1611.3 L801.5 1613.3 L807.3 1615.4 L813.2 1617.2 L819.1 1618.5 L825.1 1619.6 L831.2 1620.5 L837.3 1621.4 L843.4 1622 L849.5 1622.3 L855.7 1622.4 L861.8 1622.5 L867.9 1622.6 L874 1622.7 L880.2 1622.8 L886.3 1622.8 L892.4 1622.8 L898.5 1622.7 L904.6 1622.3 L910.8 1621.7 L916.9 1621 L923 1620.1 L929 1619.2 L935.1 1618.3 L941.1 1617.3 L947.2 1616.3 L953.1 1615.1 L959.1 1613.7 L965.1 1612.2 L971 1610.7 L977 1609.1 L982.9 1607.6 L988.8 1606.1 L994.7 1604.5 L1000.7 1602.9 L1006.6 1601.3 L1012.5 1599.7 L1018.4 1598.1 L1024.4 1596.7 L1030.3 1595.1 L1036.3 1593.6 L1042.2 1592.1 L1048.2 1590.8 L1054.2 1589.6 L1060.2 1588.6 L1066.3 1587.9 L1072.4 1587.2 L1078.5 1586.5 L1084.5 1585.7 L1090.6 1584.6 L1096.6 1583.3 L1102.6 1581.8 L1108.4 1580.2 L1114.1 1578.1 L1119.7 1575.6 L1125.2 1572.8 L1130.7 1570 L1136.2 1567.3 L1141.8 1564.7 L1147.3 1562.1 L1152.9 1559.5 L1158.4 1556.9 L1164 1554.3 L1169.5 1551.7 L1175 1549" fill="none" stroke="#ff8000" stroke-width="18.5" stroke-linejoin="round" stroke-linecap="butt" clip-path="url(#cb)"/>
<path d="M330.5 1641 L336.6 1641 L342.7 1641 L348.8 1641 L354.9 1641 L361.1 1641 L367.2 1641 L373.3 1641 L379.4 1640.9 L385.5 1640.9 L391.6 1640.9 L397.7 1640.9 L403.8 1640.9 L409.9 1640.9 L416.1 1640.8 L422.2 1640.8 L428.3 1640.8 L434.4 1640.8 L440.5 1640.7 L446.6 1640.7 L452.7 1640.7 L458.8 1640.6 L464.9 1640.6 L471.1 1640.6 L477.2 1640.5 L483.3 1640.5 L489.4 1640.4 L495.6 1640.3 L501.7 1640.2 L507.8 1640 L513.9 1639.8 L520 1639.6 L526 1639.1 L532 1638.1 L537.9 1636.6 L543.8 1634.8 L549.7 1632.9 L555.5 1630.9 L561.3 1629 L567 1626.8 L572.6 1624.5 L578.3 1622 L583.8 1619.4 L589.3 1616.7 L594.8 1614 L600.2 1611.2 L605.6 1608.2 L610.9 1605.2 L616.2 1602.1 L621.4 1598.9 L626.6 1595.6 L631.6 1592.2 L636.6 1588.7 L641.5 1585.1 L646.4 1581.4 L651.3 1577.6 L656 1573.8 L660.7 1569.8 L665.3 1565.8 L669.8 1561.7 L674.2 1557.4 L678.5 1553.1 L682.6 1548.6 L686.7 1544 L690.7 1539.4 L694.7 1534.8 L698.7 1530.1 L702.5 1525.3 L706.3 1520.5 L709.9 1515.6 L713.4 1510.6 L716.7 1505.5 L719.8 1500.2 L722.9 1494.9 L726 1489.6 L729.2 1484.4 L732.5 1479.3 L736.1 1474.4 L739.9 1469.6 L743.9 1464.9 L747.9 1460.3 L752 1455.8 L756.1 1451.3 L760.3 1446.8 L767.9 1439.8 L775.8 1446.6 L780.1 1451 L784.4 1455.3 L788.7 1459.8 L792.9 1464.2 L797.2 1468.6 L801.3 1473.1 L805.2 1477.8 L809 1482.6 L812.7 1487.6 L816.2 1492.6 L819.7 1497.7 L823 1502.8 L826.2 1508.1 L829.2 1513.4 L832.2 1518.8 L835.3 1524 L838.5 1529.3 L841.8 1534.5 L845.2 1539.6 L848.8 1544.5 L852.6 1549.3 L856.7 1553.8 L860.9 1558.3 L865.3 1562.6 L869.6 1567 L873.8 1571.5 L878.1 1576 L882.7 1579.9 L887.7 1583.4 L892.9 1586.6 L898.3 1589.6 L903.7 1592.5 L909.2 1595.2 L914.8 1597.8 L920.4 1600.4 L926 1602.8 L931.7 1605.1 L937.5 1607.2 L943.3 1609.2 L949.1 1611.2 L955 1612.9 L961 1614.2 L966.9 1615.4 L973 1616.4 L979 1617.3 L985.1 1618.2 L991.3 1618.9 L997.4 1619.5 L1003.5 1620 L1009.6 1620.5 L1015.7 1621 L1021.8 1621.4 L1027.9 1621.8 L1034.1 1622.2 L1040.2 1622.5 L1046.3 1622.7 L1052.4 1622.9 L1058.6 1622.9 L1064.7 1622.9 L1070.8 1622.9 L1077 1622.9 L1083.1 1622.9 L1089.2 1622.9 L1095.4 1622.9 L1101.5 1622.9 L1107.6 1622.9 L1113.8 1622.9 L1119.9 1622.8 L1126 1622.6 L1132.1 1622.3 L1138.3 1622 L1144.4 1621.7 L1150.5 1621.3 L1156.6 1621 L1162.8 1620.6 L1168.9 1620.3 L1175 1620" fill="none" stroke="#00ff00" stroke-width="18" stroke-linejoin="round" stroke-linecap="butt" clip-path="url(#cb)"/>
<path d="M330.5 1645.5 L336.6 1645.5 L342.6 1645.5 L348.7 1645.5 L354.8 1645.5 L360.9 1645.5 L366.9 1645.5 L373 1645.5 L379.1 1645.5 L385.1 1645.5 L391.2 1645.5 L397.3 1645.5 L403.3 1645.5 L409.4 1645.5 L415.4 1645.5 L421.5 1645.5 L427.6 1645.5 L433.6 1645.5 L439.7 1645.5 L445.8 1645.5 L451.8 1645.5 L457.9 1645.5 L463.9 1645.5 L470 1645.5 L476 1645.5 L482.1 1645.5 L488.2 1645.5 L494.2 1645.5 L500.3 1645.5 L506.3 1645.5 L512.4 1645.5 L518.4 1645.5 L524.5 1645.5 L530.5 1645.5 L536.6 1645.4 L542.7 1645 L548.7 1644.6 L554.8 1644 L560.8 1643.4 L566.8 1642.7 L572.8 1641.9 L578.8 1640.9 L584.8 1639.7 L590.7 1638.5 L596.6 1637.2 L602.5 1635.8 L608.4 1634.2 L614.2 1632.5 L620 1630.6 L625.7 1628.6 L631.4 1626.5 L637 1624.2 L642.5 1621.8 L647.9 1619.1 L653.3 1616.3 L658.7 1613.5 L664.1 1610.7 L669.5 1607.9 L675 1605.2 L680.4 1602.6 L685.9 1599.9 L691.3 1597.2 L696.7 1594.4 L701.9 1591.4 L707 1588.1 L712 1584.6 L716.9 1581.1 L721.8 1577.5 L726.7 1573.9 L731.6 1570.3 L736.4 1566.6 L741.2 1563 L746 1559.2 L750.8 1555.5 L755.5 1551.7 L760.3 1548 L764.9 1544.1 L769.5 1540.2 L774.1 1536.1 L778.5 1532 L783 1527.9 L787.4 1523.7 L791.7 1519.5 L795.9 1515.1 L800 1510.7 L804 1506.1 L807.9 1501.5 L811.8 1496.8 L815.6 1492.1 L819.3 1487.3 L823 1482.5 L826.7 1477.6 L830.2 1472.7 L833.7 1467.8 L837 1462.7 L840.2 1457.5 L843.3 1452.3 L846.5 1447.2 L849.8 1442.1 L853.2 1437 L856.6 1432 L860.2 1427 L864 1422.3 L868.1 1417.9 L872.6 1413.7 L877.5 1410.2 L883 1407.7 L888.9 1405.8 L894.9 1405.6 L901 1406.6 L906.7 1408.1 L912 1411.2 L916.8 1414.9 L921.3 1419 L925.5 1423.4 L929.6 1427.9 L933.8 1432.3 L937.9 1436.8 L941.9 1441.3 L946 1445.8 L949.9 1450.4 L953.9 1455 L957.9 1459.5 L961.9 1464.1 L965.8 1468.8 L969.7 1473.4 L973.6 1478.1 L977.5 1482.7 L981.4 1487.3 L985.5 1491.8 L989.5 1496.3 L993.7 1500.7 L997.8 1505.2 L1002 1509.5 L1006.2 1513.9 L1010.4 1518.2 L1014.7 1522.6 L1018.9 1526.9 L1023.2 1531.2 L1027.6 1535.4 L1032.1 1539.4 L1036.8 1543.3 L1041.5 1547.1 L1046.4 1550.8 L1051.3 1554.3 L1056.3 1557.7 L1061.4 1561 L1066.5 1564.2 L1071.8 1567.2 L1077.1 1570.1 L1082.5 1572.9 L1087.9 1575.6 L1093.4 1578.2 L1099 1580.7 L1104.5 1583.1 L1110.2 1585.3 L1115.8 1587.5 L1121.6 1589.6 L1127.3 1591.5 L1133.2 1593.1 L1139 1594.4 L1145 1595.6 L1151 1596.6 L1157 1597.6 L1163 1598.5 L1169 1599.3 L1175 1600" fill="none" stroke="#00ffff" stroke-width="17" stroke-linejoin="round" stroke-linecap="butt" clip-path="url(#cb)"/>
<path d="M330.5 1639 L336.6 1639 L342.6 1639 L348.7 1639 L354.8 1639 L360.8 1639 L366.9 1639 L372.9 1639 L379 1639 L385.1 1639 L391.1 1639 L397.2 1639 L403.3 1639 L409.3 1639 L415.4 1639 L421.4 1639 L427.5 1639 L433.6 1639 L439.6 1639 L445.7 1639 L451.8 1639 L457.8 1639 L463.9 1639 L469.9 1639 L476 1639 L482.1 1639 L488.1 1639 L494.2 1639 L500.3 1639 L506.3 1639 L512.4 1639 L518.4 1639 L524.5 1639 L530.6 1638.9 L536.6 1638.9 L542.7 1638.8 L548.8 1638.8 L554.8 1638.7 L560.9 1638.7 L566.9 1638.6 L573 1638.5 L579.1 1638.3 L585.1 1638.1 L591.2 1637.8 L597.3 1637.6 L603.3 1637.3 L609.4 1636.9 L615.4 1636.6 L621.5 1636.2 L627.5 1635.8 L633.5 1635.3 L639.6 1634.7 L645.6 1633.9 L651.6 1633.2 L657.6 1632.3 L663.6 1631.4 L669.6 1630.4 L675.6 1629.4 L681.6 1628.3 L687.5 1627.2 L693.5 1626.1 L699.4 1624.9 L705.3 1623.5 L711.2 1622.1 L717.1 1620.5 L723 1619 L728.8 1617.4 L734.6 1615.7 L740.4 1614 L746.2 1612.1 L752 1610.2 L757.7 1608.3 L763.4 1606.2 L769.1 1604 L774.7 1601.8 L780.3 1599.5 L785.9 1597 L791.3 1594.4 L796.8 1591.7 L802.1 1588.9 L807.4 1585.9 L812.7 1582.9 L817.9 1579.9 L823.1 1576.7 L828.3 1573.6 L833.4 1570.3 L838.5 1567 L843.6 1563.7 L848.6 1560.3 L853.6 1556.9 L858.5 1553.4 L863.5 1549.8 L868.3 1546.2 L873.2 1542.6 L878.1 1539 L882.9 1535.3 L887.6 1531.5 L892.2 1527.5 L896.6 1523.4 L900.8 1519 L904.9 1514.6 L909 1510 L913 1505.5 L917 1500.9 L921.1 1496.4 L925.1 1491.8 L929 1487.2 L932.9 1482.5 L936.6 1477.7 L940.1 1472.8 L943.3 1467.7 L946.6 1462.6 L949.9 1457.5 L953.3 1452.5 L956.6 1447.4 L959.9 1442.3 L963.1 1437.1 L966.2 1431.9 L969.2 1426.7 L972.3 1421.5 L975.3 1416.2 L978.3 1410.9 L981.3 1405.7 L984.3 1400.4 L987.4 1395.2 L990.4 1389.9 L993.4 1384.6 L996.4 1379.4 L999.4 1374.1 L1002.5 1368.9 L1005.6 1363.7 L1008.7 1358.5 L1011.9 1353.3 L1015.1 1348.2 L1018.2 1343 L1021.4 1337.8 L1024.5 1332.6 L1027.6 1327.4 L1030.6 1322.1 L1033.5 1316.8 L1036.4 1311.4 L1039.6 1306.3 L1043.1 1301.3 L1046.9 1296.5 L1050.9 1292.1 L1055.2 1287.8 L1059.7 1283.6 L1064.5 1279.7 L1069.5 1276.3 L1074.7 1273.4 L1080.3 1270.9 L1086.1 1269.3 L1092.1 1268.3 L1098.2 1267.8 L1104.2 1268.1 L1110.2 1269.1 L1116.2 1270.2 L1122 1271.8 L1127.8 1273.8 L1133.4 1276.1 L1138.9 1278.5 L1144.2 1281.3 L1149.4 1284.4 L1154.6 1287.7 L1159.7 1291 L1164.8 1294.4 L1169.9 1297.7 L1175 1301" fill="none" stroke="#008000" stroke-width="17.5" stroke-linejoin="round" stroke-linecap="butt" clip-path="url(#cb)"/>
<path d="M742.3 1003 L742.3 1373.7 L331 1373.7" fill="none" stroke="#000" stroke-width="7"/>
<line x1="387.6" y1="1373.7" x2="387.6" y2="1367.3" stroke="#000" stroke-width="7" stroke-linecap="round"/>
<line x1="498.3" y1="1373.7" x2="498.3" y2="1367.3" stroke="#000" stroke-width="7" stroke-linecap="round"/>
<line x1="609" y1="1373.7" x2="609" y2="1367.3" stroke="#000" stroke-width="7" stroke-linecap="round"/>
<line x1="719.8" y1="1373.7" x2="719.8" y2="1367.3" stroke="#000" stroke-width="7" stroke-linecap="round"/>
<line x1="443" y1="1373.7" x2="443" y2="1370.4" stroke="#000" stroke-width="7" stroke-linecap="round"/>
<line x1="553.6" y1="1373.7" x2="553.6" y2="1370.4" stroke="#000" stroke-width="7" stroke-linecap="round"/>
<line x1="664.4" y1="1373.7" x2="664.4" y2="1370.4" stroke="#000" stroke-width="7" stroke-linecap="round"/>
<line x1="742.3" y1="1047" x2="735.9" y2="1047" stroke="#000" stroke-width="7" stroke-linecap="round"/>
<line x1="742.3" y1="1149.2" x2="735.9" y2="1149.2" stroke="#000" stroke-width="7" stroke-linecap="round"/>
<line x1="742.3" y1="1252.2" x2="735.9" y2="1252.2" stroke="#000" stroke-width="7" stroke-linecap="round"/>
<line x1="742.3" y1="1355.5" x2="735.9" y2="1355.5" stroke="#000" stroke-width="7" stroke-linecap="round"/>
<line x1="742.3" y1="1098" x2="739" y2="1098" stroke="#000" stroke-width="7" stroke-linecap="round"/>
<line x1="742.3" y1="1200.7" x2="739" y2="1200.7" stroke="#000" stroke-width="7" stroke-linecap="round"/>
<line x1="742.3" y1="1303.8" x2="739" y2="1303.8" stroke="#000" stroke-width="7" stroke-linecap="round"/>
<g fill="#fff" stroke="#000" stroke-width="2.4" clip-path="url(#cbi)">
<circle cx="336.4" cy="1020.9" r="12.2"/>
<circle cx="351.7" cy="1035" r="12.2"/>
<circle cx="367.1" cy="1054.2" r="12.2"/>
<circle cx="382.4" cy="1061.9" r="12.2"/>
<circle cx="397.8" cy="1083.6" r="12.2"/>
<circle cx="412.4" cy="1097.7" r="12.2"/>
<circle cx="427.2" cy="1106.6" r="12.2"/>
<circle cx="442.6" cy="1119.4" r="12.2"/>
<circle cx="457.4" cy="1138.6" r="12.2"/>
<circle cx="472" cy="1147.6" r="12.2"/>
<circle cx="487.8" cy="1158.3" r="12.2"/>
<circle cx="502.7" cy="1179" r="12.2"/>
<circle cx="517.3" cy="1196.2" r="12.2"/>
<circle cx="532.6" cy="1204.4" r="12.2"/>
<circle cx="548" cy="1214.6" r="12.2"/>
<circle cx="562.8" cy="1225.6" r="12.2"/>
<circle cx="578.1" cy="1234.5" r="12.2"/>
<circle cx="593" cy="1254.2" r="12.2"/>
<circle cx="608.1" cy="1267.8" r="12.2"/>
<circle cx="623.4" cy="1273.7" r="12.2"/>
<circle cx="638.3" cy="1290.1" r="12.2"/>
<circle cx="653.6" cy="1292.6" r="12.2"/>
<circle cx="668.2" cy="1308" r="12.2"/>
<circle cx="683" cy="1315.1" r="12.2"/>
<circle cx="698.4" cy="1324.8" r="12.2"/>
<circle cx="714.2" cy="1349.1" r="12.2"/>
</g>
<path d="M330 1021 L716.3 1354" stroke="#ff0000" stroke-width="6.5" stroke-linecap="round" fill="none"/>
<text transform="translate(747.5 1062.5) scale(1.04 1)" font-size="57" font-weight="bold" font-style="normal" text-anchor="start">0.0</text>
<text transform="translate(747.5 1164.7) scale(1.04 1)" font-size="57" font-weight="bold" font-style="normal" text-anchor="start">-0.5</text>
<text transform="translate(747.5 1267.7) scale(1.04 1)" font-size="57" font-weight="bold" font-style="normal" text-anchor="start">-1.0</text>
<text transform="translate(747.5 1371) scale(1.04 1)" font-size="57" font-weight="bold" font-style="normal" text-anchor="start">-1.5</text>
<text transform="translate(377.5 1429.8) scale(1.04 1)" font-size="57" font-weight="bold" font-style="normal" text-anchor="middle">3</text>
<text transform="translate(489.6 1429.8) scale(1.04 1)" font-size="57" font-weight="bold" font-style="normal" text-anchor="middle">4</text>
<text transform="translate(600.3 1429.8) scale(1.04 1)" font-size="57" font-weight="bold" font-style="normal" text-anchor="middle">5</text>
<text transform="translate(711.6 1429.8) scale(1.04 1)" font-size="57" font-weight="bold" font-style="normal" text-anchor="middle">6</text>
<text transform="translate(372.5 1503.4) scale(1.03 1)" font-size="57" font-weight="bold" font-style="normal" text-anchor="start">log (Fre)</text>
<text transform="translate(550 1132.7) scale(1.035 1)" font-size="56" font-weight="bold" font-style="normal" text-anchor="start">110 K</text>
<g transform="translate(922.6 1273) rotate(-90)">
<text x="0" y="0" font-size="62" font-weight="bold" text-anchor="start">log</text>
<text x="0" y="0" font-size="76" font-weight="bold" text-anchor="start" transform="translate(97 -2) scale(0.9 1.13)">(</text>
<text font-size="62" font-weight="bold" text-anchor="start" transform="translate(120 1) scale(1.13 1)">ε</text>
<text x="141.5" y="3" font-size="72" font-weight="bold" text-anchor="start">″</text>
<text x="0" y="0" font-size="76" font-weight="bold" text-anchor="start" transform="translate(172 -2) scale(0.9 1.13)">)</text>
</g>
<text transform="translate(317.5 1054) scale(1.04 1)" font-size="76" font-weight="bold" font-style="normal" text-anchor="end">10</text>
<text transform="translate(317.5 1175.8) scale(1.04 1)" font-size="76" font-weight="bold" font-style="normal" text-anchor="end">8</text>
<text transform="translate(317.5 1297.6) scale(1.04 1)" font-size="76" font-weight="bold" font-style="normal" text-anchor="end">6</text>
<text transform="translate(317.5 1419.4) scale(1.04 1)" font-size="76" font-weight="bold" font-style="normal" text-anchor="end">4</text>
<text transform="translate(317.5 1541.2) scale(1.04 1)" font-size="76" font-weight="bold" font-style="normal" text-anchor="end">2</text>
<text transform="translate(317.5 1663) scale(1.04 1)" font-size="76" font-weight="bold" font-style="normal" text-anchor="end">0</text>
<text transform="translate(361 1767) scale(1.04 1)" font-size="76" font-weight="bold" font-style="normal" text-anchor="middle">100</text>
<text transform="translate(517 1767) scale(1.04 1)" font-size="76" font-weight="bold" font-style="normal" text-anchor="middle">150</text>
<text transform="translate(673 1767) scale(1.04 1)" font-size="76" font-weight="bold" font-style="normal" text-anchor="middle">200</text>
<text transform="translate(829 1767) scale(1.04 1)" font-size="76" font-weight="bold" font-style="normal" text-anchor="middle">250</text>
<text transform="translate(985 1767) scale(1.04 1)" font-size="76" font-weight="bold" font-style="normal" text-anchor="middle">300</text>
<text transform="translate(1141 1767) scale(1.04 1)" font-size="76" font-weight="bold" font-style="normal" text-anchor="middle">350</text>
<text transform="translate(761.3 1880.3) scale(1.04 1)" font-size="76" font-weight="bold" font-style="normal" text-anchor="middle">Temp (K)</text>
<text transform="translate(151.4 1273.8) rotate(-90) scale(1.04 1)" font-size="76" font-weight="bold" font-style="normal" text-anchor="middle">tgθ</text>
<text transform="translate(1042.8 1093.8) scale(1.04 1)" font-size="71" font-weight="bold" font-style="normal" text-anchor="middle">(b)</text>
</g>
<g id="panel-d">
<rect x="1222" y="1003" width="841.3" height="692.5" fill="none" stroke="#000" stroke-width="10.5" stroke-linejoin="round"/>
<line x1="2063.3" y1="1025.5" x2="2051.3" y2="1025.5" stroke="#000" stroke-width="10.5" stroke-linecap="round"/>
<line x1="2063.3" y1="1176.7" x2="2051.3" y2="1176.7" stroke="#000" stroke-width="10.5" stroke-linecap="round"/>
<line x1="2063.3" y1="1328" x2="2051.3" y2="1328" stroke="#000" stroke-width="10.5" stroke-linecap="round"/>
<line x1="2063.3" y1="1479.2" x2="2051.3" y2="1479.2" stroke="#000" stroke-width="10.5" stroke-linecap="round"/>
<line x1="2063.3" y1="1630.4" x2="2051.3" y2="1630.4" stroke="#000" stroke-width="10.5" stroke-linecap="round"/>
<line x1="1320.7" y1="1695.5" x2="1320.7" y2="1683.5" stroke="#000" stroke-width="10.5" stroke-linecap="round"/>
<line x1="1485.5" y1="1695.5" x2="1485.5" y2="1683.5" stroke="#000" stroke-width="10.5" stroke-linecap="round"/>
<line x1="1650.2" y1="1695.5" x2="1650.2" y2="1683.5" stroke="#000" stroke-width="10.5" stroke-linecap="round"/>
<line x1="1815" y1="1695.5" x2="1815" y2="1683.5" stroke="#000" stroke-width="10.5" stroke-linecap="round"/>
<line x1="1979.7" y1="1695.5" x2="1979.7" y2="1683.5" stroke="#000" stroke-width="10.5" stroke-linecap="round"/>
<line x1="1238.3" y1="1695.5" x2="1238.3" y2="1689.5" stroke="#000" stroke-width="10.5" stroke-linecap="round"/>
<line x1="1403.1" y1="1695.5" x2="1403.1" y2="1689.5" stroke="#000" stroke-width="10.5" stroke-linecap="round"/>
<line x1="1567.8" y1="1695.5" x2="1567.8" y2="1689.5" stroke="#000" stroke-width="10.5" stroke-linecap="round"/>
<line x1="1732.6" y1="1695.5" x2="1732.6" y2="1689.5" stroke="#000" stroke-width="10.5" stroke-linecap="round"/>
<line x1="1897.3" y1="1695.5" x2="1897.3" y2="1689.5" stroke="#000" stroke-width="10.5" stroke-linecap="round"/>
<g fill="#fff" stroke="#000" stroke-width="2.8" clip-path="url(#cd)">
<circle cx="1321.1" cy="1670" r="12.7"/>
<circle cx="1321.2" cy="1668.5" r="12.7"/>
<circle cx="1321.4" cy="1667.5" r="12.7"/>
<circle cx="1321.5" cy="1666" r="12.7"/>
<circle cx="1321.6" cy="1665" r="12.7"/>
<circle cx="1321.8" cy="1663.5" r="12.7"/>
<circle cx="1322" cy="1662" r="12.7"/>
<circle cx="1322.2" cy="1661" r="12.7"/>
<circle cx="1322.4" cy="1659.5" r="12.7"/>
<circle cx="1322.5" cy="1658.5" r="12.7"/>
<circle cx="1322.8" cy="1657" r="12.7"/>
<circle cx="1323" cy="1655.5" r="12.7"/>
<circle cx="1323.3" cy="1654" r="12.7"/>
<circle cx="1323.6" cy="1652.5" r="12.7"/>
<circle cx="1323.9" cy="1650.5" r="12.7"/>
<circle cx="1324.2" cy="1649.1" r="12.7"/>
<circle cx="1324.5" cy="1647.1" r="12.7"/>
<circle cx="1324.9" cy="1644.6" r="12.7"/>
<circle cx="1325.3" cy="1642.1" r="12.7"/>
<circle cx="1325.6" cy="1639.6" r="12.7"/>
<circle cx="1326" cy="1637.1" r="12.7"/>
<circle cx="1326.5" cy="1634.1" r="12.7"/>
<circle cx="1327" cy="1631.1" r="12.7"/>
<circle cx="1327.5" cy="1627.6" r="12.7"/>
<circle cx="1328.1" cy="1624.2" r="12.7"/>
<circle cx="1328.9" cy="1620.2" r="12.7"/>
<circle cx="1329.7" cy="1615.7" r="12.7"/>
<circle cx="1330.6" cy="1611.3" r="12.7"/>
<circle cx="1331.5" cy="1606.8" r="12.7"/>
<circle cx="1332.7" cy="1601.4" r="12.7"/>
<circle cx="1334" cy="1596" r="12.7"/>
<circle cx="1335.6" cy="1590.2" r="12.7"/>
<circle cx="1337.6" cy="1584" r="12.7"/>
<circle cx="1340.2" cy="1577.4" r="12.7"/>
<circle cx="1343.3" cy="1570.5" r="12.7"/>
<circle cx="1346.3" cy="1562.8" r="12.7"/>
<circle cx="1350.4" cy="1553.8" r="12.7"/>
<circle cx="1354.3" cy="1544.9" r="12.7"/>
<circle cx="1358.6" cy="1534.7" r="12.7"/>
<circle cx="1363.7" cy="1524.4" r="12.7"/>
<circle cx="1368.8" cy="1512.9" r="12.7"/>
<circle cx="1374" cy="1501.4" r="12.7"/>
<circle cx="1380.4" cy="1488.6" r="12.7"/>
<circle cx="1386.7" cy="1475.8" r="12.7"/>
<circle cx="1393.7" cy="1463" r="12.7"/>
<circle cx="1400.8" cy="1449" r="12.7"/>
<circle cx="1409.8" cy="1434.9" r="12.7"/>
<circle cx="1418.7" cy="1416" r="12.7"/>
<circle cx="1429" cy="1398" r="12.7"/>
<circle cx="1439.5" cy="1382" r="12.7"/>
<circle cx="1451.9" cy="1365.5" r="12.7"/>
<circle cx="1465.4" cy="1348" r="12.7"/>
<circle cx="1480.3" cy="1329.6" r="12.7"/>
<circle cx="1496.4" cy="1311.4" r="12.7"/>
<circle cx="1513.7" cy="1292.8" r="12.7"/>
<circle cx="1533.6" cy="1275.2" r="12.7"/>
<circle cx="1555.2" cy="1257.6" r="12.7"/>
<circle cx="1577.6" cy="1240.8" r="12.7"/>
<circle cx="1601.8" cy="1225.5" r="12.7"/>
<circle cx="1628.5" cy="1211" r="12.7"/>
<circle cx="1655.8" cy="1199.5" r="12.7"/>
<circle cx="1684.2" cy="1190.2" r="12.7"/>
<circle cx="1714.1" cy="1180.6" r="12.7"/>
<circle cx="1744.2" cy="1176.3" r="12.7"/>
<circle cx="1775.5" cy="1175.2" r="12.7"/>
<circle cx="1806.7" cy="1176.3" r="12.7"/>
<circle cx="1836.8" cy="1180.2" r="12.7"/>
<circle cx="1867.1" cy="1187.6" r="12.7"/>
<circle cx="1896.7" cy="1197.6" r="12.7"/>
<circle cx="1923.7" cy="1210" r="12.7"/>
<circle cx="1950.5" cy="1224.6" r="12.7"/>
<circle cx="1975.6" cy="1240.6" r="12.7"/>
<circle cx="1998.5" cy="1260.2" r="12.7"/>
<circle cx="2018.7" cy="1279.8" r="12.7"/>
<circle cx="2037.7" cy="1300" r="12.7"/>
</g>
<rect x="1253.7" y="1587.6" width="131.6" height="84.3" fill="none" stroke="#000" stroke-width="1.5"/>
<path d="M1320.7 1674.1 L1321.1 1670.1 L1321.5 1666.1 L1321.9 1662.1 L1322.4 1658.1 L1322.9 1654.1 L1323.4 1650.1 L1324 1646.1 L1324.6 1642.2 L1325.2 1638.2 L1325.9 1634.2 L1326.5 1630.3 L1327.2 1626.3 L1328 1622.3 L1328.7 1618.4 L1329.5 1614.5 L1330.3 1610.5 L1331.2 1606.6 L1332.1 1602.7 L1333 1598.7 L1333.9 1594.8 L1334.9 1590.9 L1335.8 1587 L1336.8 1583.1 L1337.9 1579.3 L1338.9 1575.4 L1340 1571.5 L1341.1 1567.6 L1342.2 1563.8 L1343.4 1559.9 L1344.6 1556.1 L1345.7 1552.2 L1346.9 1548.4 L1348.2 1544.6 L1349.4 1540.7 L1350.7 1536.9 L1352 1533.1 L1353.3 1529.3 L1354.7 1525.5 L1356.1 1521.8 L1357.5 1518 L1358.9 1514.2 L1360.3 1510.5 L1361.8 1506.7 L1363.3 1503 L1364.8 1499.3 L1366.4 1495.6 L1367.9 1491.9 L1369.4 1488.1 L1371 1484.4 L1372.6 1480.7 L1374.2 1477 L1375.7 1473.3 L1377.4 1469.6 L1379 1466 L1380.7 1462.3 L1382.4 1458.7 L1384.1 1455 L1385.9 1451.5 L1387.8 1447.9 L1389.7 1444.4 L1391.7 1440.9 L1393.7 1437.4 L1395.8 1433.9 L1397.8 1430.5 L1399.9 1427.1 L1402.1 1423.6 L1404.2 1420.2 L1406.3 1416.8 L1408.4 1413.3 L1410.4 1409.9 L1412.5 1406.5 L1414.6 1403 L1416.7 1399.6 L1418.7 1396.1 L1420.8 1392.7 L1422.9 1389.3 L1425 1385.8 L1427.1 1382.4 L1429.3 1379 L1431.4 1375.6 L1433.6 1372.2 L1435.8 1368.9 L1438 1365.5 L1440.3 1362.2 L1442.6 1358.9 L1444.9 1355.6 L1447.2 1352.3 L1449.5 1349 L1451.9 1345.8 L1454.3 1342.5 L1456.7 1339.3 L1459.2 1336.1 L1461.6 1333 L1464.1 1329.8 L1466.7 1326.7 L1469.2 1323.6 L1471.8 1320.5 L1474.4 1317.4 L1477 1314.4 L1479.7 1311.4 L1482.4 1308.4 L1485.1 1305.4 L1487.8 1302.4 L1490.5 1299.4 L1493.3 1296.5 L1496 1293.6 L1498.9 1290.7 L1501.7 1287.9 L1504.6 1285.1 L1507.5 1282.3 L1510.4 1279.6 L1513.4 1276.9 L1516.4 1274.2 L1519.5 1271.6 L1522.6 1269 L1525.7 1266.5 L1528.8 1264 L1532 1261.5 L1535.2 1259.1 L1538.4 1256.6 L1541.6 1254.2 L1544.9 1251.9 L1548.1 1249.5 L1551.4 1247.2 L1554.7 1244.9 L1558.1 1242.6 L1561.4 1240.4 L1564.8 1238.2 L1568.2 1236.1 L1571.7 1234 L1575.1 1232 L1578.7 1230.1 L1582.2 1228.2 L1585.8 1226.3 L1589.4 1224.5 L1593 1222.7 L1596.6 1221 L1600.2 1219.2 L1603.8 1217.5 L1607.5 1215.7 L1611.1 1214 L1614.8 1212.4 L1618.5 1210.7 L1622.1 1209.2 L1625.9 1207.6 L1629.6 1206.1 L1633.3 1204.7 L1637.1 1203.3 L1640.9 1202 L1644.7 1200.7 L1648.5 1199.4 L1652.4 1198.2 L1656.2 1197 L1660 1195.8 L1663.9 1194.6 L1667.8 1193.4 L1671.6 1192.3 L1675.5 1191.3 L1679.4 1190.3 L1683.3 1189.4 L1687.2 1188.6 L1691.2 1187.9 L1695.2 1187.2 L1699.1 1186.7 L1703.1 1186.2 L1707.1 1185.7 L1711.1 1185.3 L1715.1 1184.9 L1719.2 1184.6 L1723.2 1184.2 L1727.2 1183.9 L1731.2 1183.6 L1735.2 1183.3 L1739.2 1182.9 L1743.3 1182.7 L1747.3 1182.4 L1751.3 1182.2 L1755.3 1182 L1759.3 1181.8 L1763.3 1181.7 L1767.3 1181.7 L1771.4 1181.7 L1775.4 1181.8 L1779.4 1182 L1783.4 1182.2 L1787.4 1182.5 L1791.4 1182.9 L1795.4 1183.3 L1799.4 1183.8 L1803.4 1184.3 L1807.4 1184.9 L1811.4 1185.6 L1815.3 1186.3 L1819.3 1187 L1823.2 1187.9 L1827.2 1188.7 L1831.1 1189.6 L1835 1190.6 L1838.9 1191.5 L1842.8 1192.6 L1846.7 1193.6 L1850.5 1194.8 L1854.4 1195.9 L1858.2 1197.1 L1862.1 1198.3 L1865.9 1199.6 L1869.7 1200.9 L1873.5 1202.2 L1877.3 1203.6 L1881 1205 L1884.8 1206.4 L1888.5 1207.9 L1892.3 1209.4 L1896 1210.9 L1899.7 1212.5 L1903.4 1214.1 L1907.1 1215.8 L1910.7 1217.4 L1914.4 1219.1 L1918 1220.9 L1921.6 1222.6 L1925.2 1224.4 L1928.8 1226.2 L1932.4 1228.1 L1935.9 1230 L1939.4 1231.9 L1943 1233.9 L1946.4 1235.9 L1949.9 1237.9 L1953.4 1239.9 L1956.8 1242 L1960.2 1244.2 L1963.6 1246.3 L1967 1248.5 L1970.4 1250.7 L1973.7 1252.9 L1977.1 1255.2 L1980.4 1257.5 L1983.7 1259.8 L1986.9 1262.1 L1990.2 1264.5 L1993.4 1266.9 L1996.6 1269.3 L1999.8 1271.7 L2003 1274.2 L2006.1 1276.7 L2009.3 1279.3 L2012.4 1281.8 L2015.4 1284.4 L2018.5 1287.1 L2021.5 1289.7 L2024.4 1292.5 L2027.4 1295.2 L2030.3 1298 L2033.1 1300.8 L2036 1303.7 L2038.8 1306.6 L2041.5 1309.5 L2044.2 1312.5" fill="none" stroke="#ff0000" stroke-width="6.6" stroke-linejoin="round" stroke-linecap="round"/>
<path d="M1293.4 1596 L1290.2 1400" stroke="#0000ff" stroke-width="8.8" stroke-linecap="round" fill="none"/>
<path d="M1277 1402.5 L1289.3 1359 Q1289.7 1357.8 1290.2 1359 L1303.2 1402 Z" fill="#0000ff" stroke="#0000ff" stroke-width="2" stroke-linejoin="round"/>
<g fill="#fff" stroke="#000" stroke-width="2.5" clip-path="url(#cdi)">
<circle cx="1251" cy="1205" r="11.4"/>
<circle cx="1253.1" cy="1205" r="11.4"/>
<circle cx="1255.1" cy="1205" r="11.4"/>
<circle cx="1257.1" cy="1205" r="11.4"/>
<circle cx="1259.2" cy="1205" r="11.4"/>
<circle cx="1261.2" cy="1205" r="11.4"/>
<circle cx="1263.2" cy="1205" r="11.4"/>
<circle cx="1265.2" cy="1205" r="11.4"/>
<circle cx="1267.2" cy="1205" r="11.4"/>
<circle cx="1269.2" cy="1205" r="11.4"/>
<circle cx="1271.2" cy="1205" r="11.4"/>
<circle cx="1273.2" cy="1205" r="11.4"/>
<circle cx="1275.2" cy="1205" r="11.4"/>
<circle cx="1277.2" cy="1205" r="11.4"/>
<circle cx="1279.2" cy="1205" r="11.4"/>
<circle cx="1281.2" cy="1205" r="11.4"/>
<circle cx="1283.1" cy="1204.9" r="11.4"/>
<circle cx="1285.2" cy="1204.6" r="11.4"/>
<circle cx="1286.7" cy="1204.2" r="11.4"/>
<circle cx="1288.6" cy="1203.7" r="11.4"/>
<circle cx="1290.8" cy="1202.6" r="11.4"/>
<circle cx="1292.4" cy="1201.4" r="11.4"/>
<circle cx="1293.6" cy="1200.4" r="11.4"/>
<circle cx="1295" cy="1199" r="11.4"/>
<circle cx="1296.3" cy="1197.5" r="11.4"/>
<circle cx="1297.6" cy="1196" r="11.4"/>
<circle cx="1298.8" cy="1194.3" r="11.4"/>
<circle cx="1300" cy="1192.7" r="11.4"/>
<circle cx="1301.2" cy="1191.1" r="11.4"/>
<circle cx="1302.4" cy="1189.5" r="11.4"/>
<circle cx="1303.7" cy="1187.9" r="11.4"/>
<circle cx="1304.9" cy="1186.3" r="11.4"/>
<circle cx="1306.1" cy="1184.7" r="11.4"/>
<circle cx="1307.3" cy="1183.1" r="11.4"/>
<circle cx="1308.5" cy="1181.5" r="11.4"/>
<circle cx="1309.7" cy="1179.9" r="11.4"/>
<circle cx="1311" cy="1178.3" r="11.4"/>
<circle cx="1312.2" cy="1176.7" r="11.4"/>
<circle cx="1313.8" cy="1174.8" r="11.4"/>
<circle cx="1315.4" cy="1172.8" r="11.4"/>
<circle cx="1317" cy="1170.9" r="11.4"/>
<circle cx="1319.3" cy="1168.2" r="11.4"/>
<circle cx="1321.6" cy="1165.6" r="11.4"/>
<circle cx="1324.3" cy="1162.6" r="11.4"/>
<circle cx="1327.4" cy="1159.3" r="11.4"/>
<circle cx="1330.8" cy="1155.6" r="11.4"/>
<circle cx="1334.7" cy="1151.7" r="11.4"/>
<circle cx="1339.4" cy="1147.2" r="11.4"/>
<circle cx="1344.6" cy="1142.5" r="11.4"/>
<circle cx="1350.7" cy="1137.2" r="11.4"/>
<circle cx="1357.5" cy="1131.1" r="11.4"/>
<circle cx="1365.1" cy="1124.3" r="11.4"/>
<circle cx="1374.2" cy="1116.7" r="11.4"/>
<circle cx="1384" cy="1108.4" r="11.4"/>
<circle cx="1395.4" cy="1099.3" r="11.4"/>
<circle cx="1407.5" cy="1088.7" r="11.4"/>
<circle cx="1422.7" cy="1077.3" r="11.4"/>
<circle cx="1439.3" cy="1065.2" r="11.4"/>
<circle cx="1459" cy="1053.1" r="11.4"/>
<circle cx="1481.8" cy="1039.5" r="11.4"/>
<circle cx="1503" cy="1022" r="11.4"/>
</g>
<path d="M1249 1203.9 L1255.2 1203.9 L1261.4 1203.9 L1267.5 1203.9 L1273.6 1203.9 L1279.8 1203.9 L1285.9 1203 L1290.9 1199.6 L1294.7 1194.9 L1298 1189.6 L1301.6 1184.5 L1305.3 1179.6 L1309 1174.7 L1312.9 1170 L1317 1165.3 L1321.1 1160.7 L1325.2 1156.2 L1329.4 1151.7 L1333.7 1147.3 L1338 1142.9 L1342.4 1138.6 L1346.8 1134.3 L1351.3 1130 L1355.8 1125.8 L1360.4 1121.8 L1365.2 1117.8 L1370 1114.1 L1375 1110.6 L1380.2 1107.2 L1385.4 1103.8 L1390.5 1100.5 L1395.7 1097.2 L1401 1094 L1406.3 1090.8 L1411.5 1087.6 L1416.7 1084.3 L1421.8 1081 L1427 1077.6 L1432.2 1074.3 L1437.4 1071 L1442.6 1067.7 L1447.8 1064.5 L1453 1061.2 L1458.2 1057.9 L1463.4 1054.6 L1468.6 1051.3 L1473.8 1048 L1479 1044.7 L1484.1 1041.3 L1489.3 1037.9 L1494.4 1034.5 L1499.5 1031.1 L1504.6 1027.7 L1509.8 1024.3 L1514.9 1020.9 L1520 1017.5" fill="none" stroke="#ff0000" stroke-width="10" stroke-linejoin="round" stroke-linecap="round" clip-path="url(#cdi)"/>
<path d="M1512.9 1003 L1512.9 1228.4 L1222 1228.4" fill="none" stroke="#000" stroke-width="10.5" stroke-linejoin="round"/>
<line x1="1512.9" y1="1040.4" x2="1504.7" y2="1040.4" stroke="#000" stroke-width="10" stroke-linecap="round"/>
<line x1="1512.9" y1="1124" x2="1504.7" y2="1124" stroke="#000" stroke-width="10" stroke-linecap="round"/>
<line x1="1512.9" y1="1207.6" x2="1504.7" y2="1207.6" stroke="#000" stroke-width="10" stroke-linecap="round"/>
<line x1="1512.9" y1="1082.3" x2="1508.2" y2="1082.3" stroke="#000" stroke-width="10" stroke-linecap="round"/>
<line x1="1512.9" y1="1165.8" x2="1508.2" y2="1165.8" stroke="#000" stroke-width="10" stroke-linecap="round"/>
<line x1="1282.4" y1="1228.4" x2="1282.4" y2="1221.8" stroke="#000" stroke-width="10" stroke-linecap="round"/>
<line x1="1349.1" y1="1228.4" x2="1349.1" y2="1221.8" stroke="#000" stroke-width="10" stroke-linecap="round"/>
<line x1="1416.2" y1="1228.4" x2="1416.2" y2="1221.8" stroke="#000" stroke-width="10" stroke-linecap="round"/>
<line x1="1482.7" y1="1228.4" x2="1482.7" y2="1221.8" stroke="#000" stroke-width="10" stroke-linecap="round"/>
<text transform="translate(1521 1053.6) scale(1.04 1)" font-size="52.5" font-weight="bold" font-style="normal" text-anchor="start">160</text>
<text transform="translate(1521 1136.3) scale(1.04 1)" font-size="52.5" font-weight="bold" font-style="normal" text-anchor="start">80</text>
<text transform="translate(1521 1220.2) scale(1.04 1)" font-size="52.5" font-weight="bold" font-style="normal" text-anchor="start">0</text>
<text transform="translate(1282.4 1271.6) scale(1.04 1)" font-size="45" font-weight="bold" font-style="normal" text-anchor="middle">9</text>
<text transform="translate(1349.7 1271.6) scale(1.04 1)" font-size="45" font-weight="bold" font-style="normal" text-anchor="middle">18</text>
<text transform="translate(1415.4 1271.6) scale(1.04 1)" font-size="45" font-weight="bold" font-style="normal" text-anchor="middle">27</text>
<text transform="translate(1482.7 1271.6) scale(1.04 1)" font-size="45" font-weight="bold" font-style="normal" text-anchor="middle">36</text>
<text transform="translate(1344.5 1354) scale(0.93 1)" font-size="62" font-weight="bold" font-style="italic" text-anchor="start">Z′</text>
<text transform="translate(1673.3 1131) rotate(-90) scale(0.92 1)" font-size="62" font-weight="bold" font-style="italic" text-anchor="start">Z″</text>
<g fill="none" stroke="#000" stroke-width="1.6">
<path d="M1527.3 1508 L1527.3 1362.8 L1600.7 1362.8"/>
<path d="M1600.7 1343.1 L1600.7 1379.4 M1614.8 1343.1 L1614.8 1379.4"/>
<path d="M1614.8 1362.8 L1725 1362.8"/>
<path d="M1719.8 1367.3 L1719.8 1506.8"/>
<path d="M1527.3 1504.4 L1581 1504.4 L1603.7 1550.7 L1629.5 1485.6 L1662.2 1538.6"/>
<path d="M1658.3 1530.1 L1681 1504.4 M1681.5 1506.8 L1719.8 1506.8"/>
<rect x="1565.2" y="1401.9" width="121.3" height="67.6" stroke-width="2"/>
<path d="M1787.4 1508 L1787.4 1362.8 L1860.8 1362.8"/>
<path d="M1860.8 1343.1 L1860.8 1379.4 M1874.9 1343.1 L1874.9 1379.4"/>
<path d="M1874.9 1362.8 L1987.2 1362.8"/>
<path d="M1981.2 1344.3 L1981.2 1484.6"/>
<path d="M1787.4 1504.4 L1841.1 1504.4 L1863.8 1550.7 L1889.6 1485.6 L1922.3 1538.6"/>
<path d="M1918.4 1530.1 L1941.1 1504.4 M1941.6 1506.8 L1981.2 1506.8"/>
<rect x="1825.3" y="1401.9" width="121.3" height="67.6" stroke-width="2"/>
<path d="M1469.4 1437.7 L1565.2 1437.7 M1693.2 1437.7 L1826 1437.7 M1952.4 1437.7 L2043.3 1437.7"/>
</g>
<text transform="translate(1573 1467.4) scale(1.04 1)" font-size="62" font-weight="bold" font-style="normal" text-anchor="start">CPE</text>
<text transform="translate(1830.5 1467.4) scale(1.04 1)" font-size="62" font-weight="bold" font-style="normal" text-anchor="start">CPE</text>
<text transform="translate(1586.5 1312.2) scale(1.04 1)" font-size="64" font-weight="bold" font-style="normal" text-anchor="start">C<tspan x="44.7" dy="27.3" font-size="63">g</tspan></text>
<text transform="translate(1845.5 1312.2) scale(1.04 1)" font-size="64" font-weight="bold" font-style="normal" text-anchor="start">C<tspan x="43.3" dy="27.3" font-size="63">gb</tspan></text>
<text transform="translate(1613 1595.3) scale(1.04 1)" font-size="62" font-weight="bold" font-style="normal" text-anchor="start">R<tspan x="44.2" dy="42.2">g</tspan></text>
<text transform="translate(1853.5 1599.9) scale(1.04 1)" font-size="62" font-weight="bold" font-style="normal" text-anchor="start">R<tspan x="43.75" dy="36.3">gb</tspan></text>
<text transform="translate(1666 1273.2) scale(1.015 1)" font-size="64.5" font-weight="bold" font-style="normal" text-anchor="start">300 K</text>
<text transform="translate(2073 1045.5) scale(1.04 1)" font-size="76" font-weight="bold" font-style="normal" text-anchor="start">2.8k</text>
<text transform="translate(2073 1196.7) scale(1.04 1)" font-size="76" font-weight="bold" font-style="normal" text-anchor="start">2.1k</text>
<text transform="translate(2073 1348) scale(1.04 1)" font-size="76" font-weight="bold" font-style="normal" text-anchor="start">1.4k</text>
<text transform="translate(2073 1499.2) scale(1.04 1)" font-size="76" font-weight="bold" font-style="normal" text-anchor="start">700.0</text>
<text transform="translate(2073 1650.4) scale(1.04 1)" font-size="76" font-weight="bold" font-style="normal" text-anchor="start">0.0</text>
<text transform="translate(1319.3 1767) scale(1.04 1)" font-size="76" font-weight="bold" font-style="normal" text-anchor="middle">0</text>
<text transform="translate(1488 1767) scale(1.04 1)" font-size="76" font-weight="bold" font-style="normal" text-anchor="middle">1k</text>
<text transform="translate(1652.3 1767) scale(1.04 1)" font-size="76" font-weight="bold" font-style="normal" text-anchor="middle">2k</text>
<text transform="translate(1816.5 1767) scale(1.04 1)" font-size="76" font-weight="bold" font-style="normal" text-anchor="middle">3k</text>
<text transform="translate(1983 1767) scale(1.04 1)" font-size="76" font-weight="bold" font-style="normal" text-anchor="middle">4k</text>
<text transform="translate(1697 1883.4) scale(0.93 1)" font-size="76" font-weight="bold" font-style="italic" text-anchor="start">Z′</text>
<text transform="translate(2318.8 1362) rotate(-90) scale(0.93 1)" font-size="76" font-weight="bold" font-style="italic" text-anchor="start">Z<tspan font-size="92" dx="-9" dy="9">″</tspan></text>
<text transform="translate(1985 1097) scale(1.04 1)" font-size="71" font-weight="bold" font-style="normal" text-anchor="middle">(d)</text>
</g>
</svg></body></html>
